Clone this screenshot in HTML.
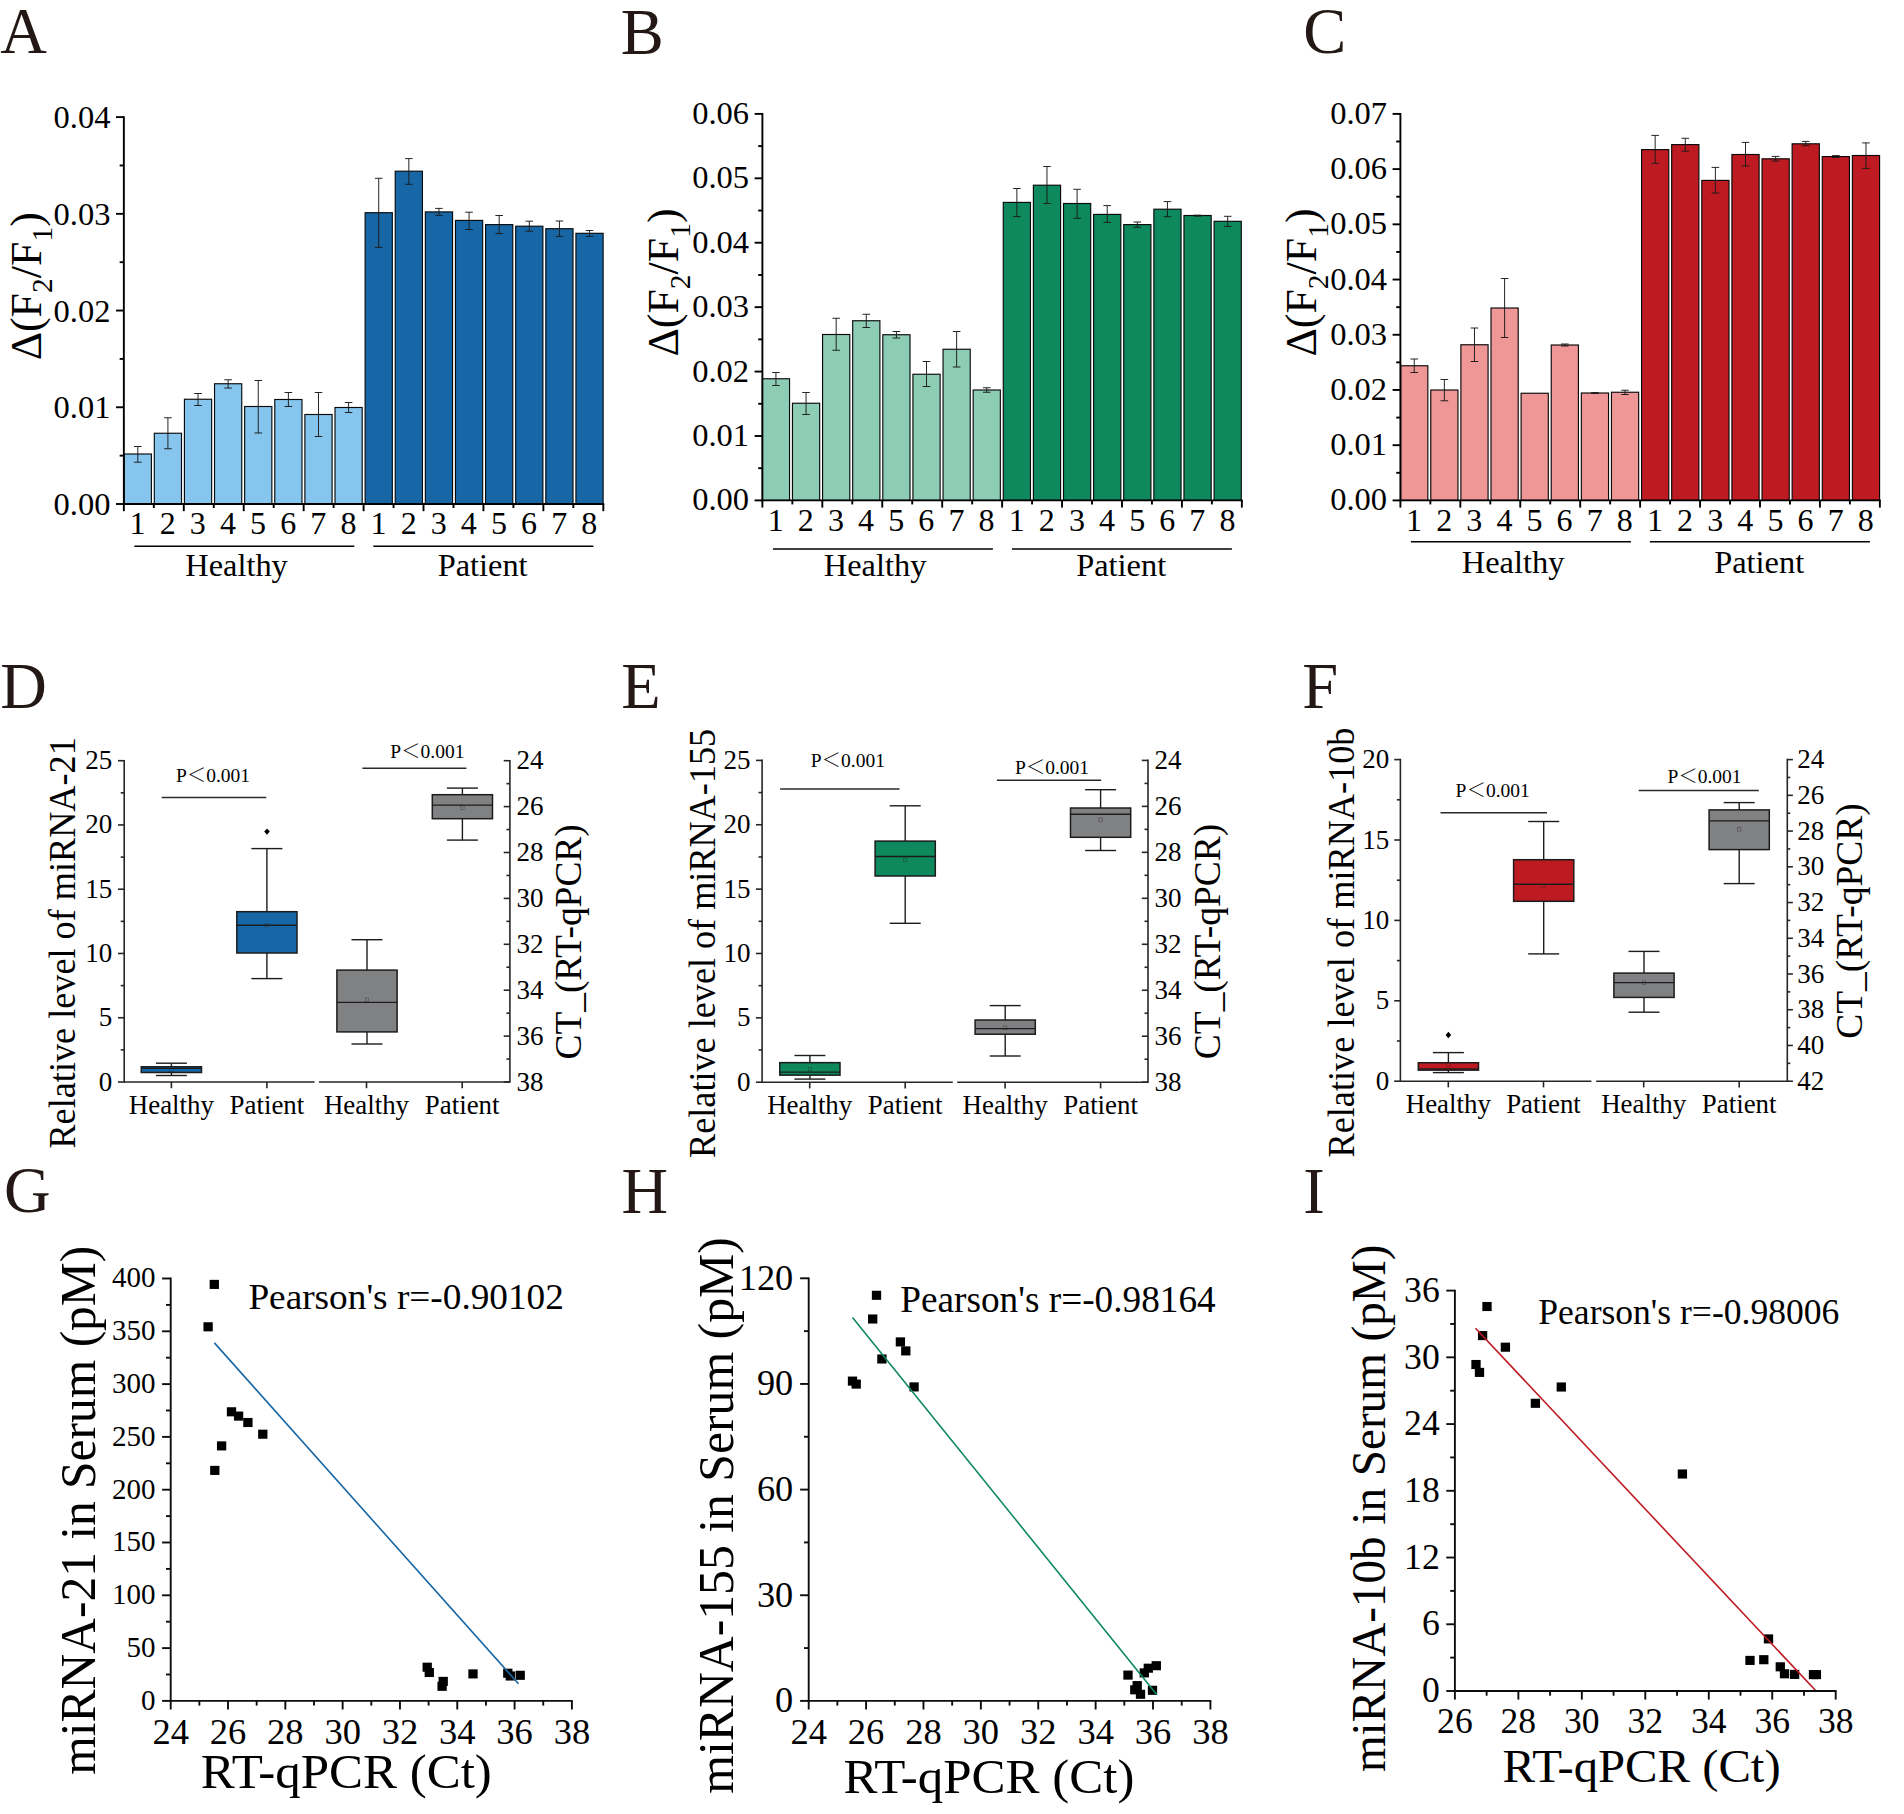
<!DOCTYPE html>
<html lang="en">
<head>
<meta charset="utf-8">
<title>Figure</title>
<style>html,body{margin:0;padding:0;background:#fff}svg{display:block}</style>
</head>
<body>
<svg width="1904" height="1814" viewBox="0 0 1904 1814" font-family='"Liberation Serif", "Noto Serif CJK SC", serif'>
<rect width="1904" height="1814" fill="#fff"/>
<text x="0.3" y="53.4" font-size="64.5" text-anchor="start" fill="#231815" >A</text>
<text x="620.8" y="53.7" font-size="64.5" text-anchor="start" fill="#231815" >B</text>
<text x="1303.2" y="53.2" font-size="64.5" text-anchor="start" fill="#231815" >C</text>
<text x="0.3" y="708.1" font-size="64.5" text-anchor="start" fill="#231815" >D</text>
<text x="621.3" y="708.1" font-size="64.5" text-anchor="start" fill="#231815" >E</text>
<text x="1302.3" y="708.1" font-size="64.5" text-anchor="start" fill="#231815" >F</text>
<text x="3.9" y="1212.3" font-size="64.5" text-anchor="start" fill="#231815" >G</text>
<text x="621.6" y="1213" font-size="64.5" text-anchor="start" fill="#231815" >H</text>
<text x="1303.2" y="1213" font-size="64.5" text-anchor="start" fill="#231815" >I</text>
<rect x="124.2" y="454" width="27.2" height="50" fill="#86C6EE" stroke="#0a0a0a" stroke-width="1.15"/>
<rect x="154.31" y="433.25" width="27.2" height="70.75" fill="#86C6EE" stroke="#0a0a0a" stroke-width="1.15"/>
<rect x="184.43" y="399.25" width="27.2" height="104.75" fill="#86C6EE" stroke="#0a0a0a" stroke-width="1.15"/>
<rect x="214.54" y="383.75" width="27.2" height="120.25" fill="#86C6EE" stroke="#0a0a0a" stroke-width="1.15"/>
<rect x="244.66" y="406.5" width="27.2" height="97.5" fill="#86C6EE" stroke="#0a0a0a" stroke-width="1.15"/>
<rect x="274.77" y="399.5" width="27.2" height="104.5" fill="#86C6EE" stroke="#0a0a0a" stroke-width="1.15"/>
<rect x="304.89" y="414.5" width="27.2" height="89.5" fill="#86C6EE" stroke="#0a0a0a" stroke-width="1.15"/>
<rect x="335" y="407.5" width="27.2" height="96.5" fill="#86C6EE" stroke="#0a0a0a" stroke-width="1.15"/>
<rect x="365.12" y="212.7" width="27.2" height="291.3" fill="#1767A6" stroke="#0a0a0a" stroke-width="1.15"/>
<rect x="395.23" y="171.2" width="27.2" height="332.8" fill="#1767A6" stroke="#0a0a0a" stroke-width="1.15"/>
<rect x="425.35" y="211.9" width="27.2" height="292.1" fill="#1767A6" stroke="#0a0a0a" stroke-width="1.15"/>
<rect x="455.46" y="220.4" width="27.2" height="283.6" fill="#1767A6" stroke="#0a0a0a" stroke-width="1.15"/>
<rect x="485.58" y="224.6" width="27.2" height="279.4" fill="#1767A6" stroke="#0a0a0a" stroke-width="1.15"/>
<rect x="515.69" y="226.2" width="27.2" height="277.8" fill="#1767A6" stroke="#0a0a0a" stroke-width="1.15"/>
<rect x="545.81" y="228.7" width="27.2" height="275.3" fill="#1767A6" stroke="#0a0a0a" stroke-width="1.15"/>
<rect x="575.92" y="233.3" width="27.2" height="270.7" fill="#1767A6" stroke="#0a0a0a" stroke-width="1.15"/>
<line x1="137.8" y1="446.5" x2="137.8" y2="462.2" stroke="#1a1a1a" stroke-width="0.95" />
<line x1="134" y1="446.5" x2="141.6" y2="446.5" stroke="#1a1a1a" stroke-width="0.95" />
<line x1="134" y1="462.2" x2="141.6" y2="462.2" stroke="#1a1a1a" stroke-width="0.95" />
<line x1="167.91" y1="417.75" x2="167.91" y2="448.75" stroke="#1a1a1a" stroke-width="0.95" />
<line x1="164.11" y1="417.75" x2="171.72" y2="417.75" stroke="#1a1a1a" stroke-width="0.95" />
<line x1="164.11" y1="448.75" x2="171.72" y2="448.75" stroke="#1a1a1a" stroke-width="0.95" />
<line x1="198.03" y1="393.5" x2="198.03" y2="405.5" stroke="#1a1a1a" stroke-width="0.95" />
<line x1="194.23" y1="393.5" x2="201.83" y2="393.5" stroke="#1a1a1a" stroke-width="0.95" />
<line x1="194.23" y1="405.5" x2="201.83" y2="405.5" stroke="#1a1a1a" stroke-width="0.95" />
<line x1="228.14" y1="379.75" x2="228.14" y2="388" stroke="#1a1a1a" stroke-width="0.95" />
<line x1="224.34" y1="379.75" x2="231.94" y2="379.75" stroke="#1a1a1a" stroke-width="0.95" />
<line x1="224.34" y1="388" x2="231.94" y2="388" stroke="#1a1a1a" stroke-width="0.95" />
<line x1="258.26" y1="380.5" x2="258.26" y2="433" stroke="#1a1a1a" stroke-width="0.95" />
<line x1="254.46" y1="380.5" x2="262.06" y2="380.5" stroke="#1a1a1a" stroke-width="0.95" />
<line x1="254.46" y1="433" x2="262.06" y2="433" stroke="#1a1a1a" stroke-width="0.95" />
<line x1="288.38" y1="392.5" x2="288.38" y2="406.5" stroke="#1a1a1a" stroke-width="0.95" />
<line x1="284.57" y1="392.5" x2="292.18" y2="392.5" stroke="#1a1a1a" stroke-width="0.95" />
<line x1="284.57" y1="406.5" x2="292.18" y2="406.5" stroke="#1a1a1a" stroke-width="0.95" />
<line x1="318.49" y1="392.5" x2="318.49" y2="436.5" stroke="#1a1a1a" stroke-width="0.95" />
<line x1="314.69" y1="392.5" x2="322.29" y2="392.5" stroke="#1a1a1a" stroke-width="0.95" />
<line x1="314.69" y1="436.5" x2="322.29" y2="436.5" stroke="#1a1a1a" stroke-width="0.95" />
<line x1="348.6" y1="402.5" x2="348.6" y2="412.5" stroke="#1a1a1a" stroke-width="0.95" />
<line x1="344.8" y1="402.5" x2="352.4" y2="402.5" stroke="#1a1a1a" stroke-width="0.95" />
<line x1="344.8" y1="412.5" x2="352.4" y2="412.5" stroke="#1a1a1a" stroke-width="0.95" />
<line x1="378.72" y1="178.3" x2="378.72" y2="247.3" stroke="#1a1a1a" stroke-width="0.95" />
<line x1="374.92" y1="178.3" x2="382.52" y2="178.3" stroke="#1a1a1a" stroke-width="0.95" />
<line x1="374.92" y1="247.3" x2="382.52" y2="247.3" stroke="#1a1a1a" stroke-width="0.95" />
<line x1="408.83" y1="158.6" x2="408.83" y2="184.3" stroke="#1a1a1a" stroke-width="0.95" />
<line x1="405.03" y1="158.6" x2="412.63" y2="158.6" stroke="#1a1a1a" stroke-width="0.95" />
<line x1="405.03" y1="184.3" x2="412.63" y2="184.3" stroke="#1a1a1a" stroke-width="0.95" />
<line x1="438.95" y1="208.4" x2="438.95" y2="215.3" stroke="#1a1a1a" stroke-width="0.95" />
<line x1="435.15" y1="208.4" x2="442.75" y2="208.4" stroke="#1a1a1a" stroke-width="0.95" />
<line x1="435.15" y1="215.3" x2="442.75" y2="215.3" stroke="#1a1a1a" stroke-width="0.95" />
<line x1="469.06" y1="212.2" x2="469.06" y2="229.5" stroke="#1a1a1a" stroke-width="0.95" />
<line x1="465.26" y1="212.2" x2="472.86" y2="212.2" stroke="#1a1a1a" stroke-width="0.95" />
<line x1="465.26" y1="229.5" x2="472.86" y2="229.5" stroke="#1a1a1a" stroke-width="0.95" />
<line x1="499.18" y1="215.5" x2="499.18" y2="233.6" stroke="#1a1a1a" stroke-width="0.95" />
<line x1="495.38" y1="215.5" x2="502.98" y2="215.5" stroke="#1a1a1a" stroke-width="0.95" />
<line x1="495.38" y1="233.6" x2="502.98" y2="233.6" stroke="#1a1a1a" stroke-width="0.95" />
<line x1="529.29" y1="221.2" x2="529.29" y2="231.2" stroke="#1a1a1a" stroke-width="0.95" />
<line x1="525.5" y1="221.2" x2="533.09" y2="221.2" stroke="#1a1a1a" stroke-width="0.95" />
<line x1="525.5" y1="231.2" x2="533.09" y2="231.2" stroke="#1a1a1a" stroke-width="0.95" />
<line x1="559.41" y1="221" x2="559.41" y2="236.4" stroke="#1a1a1a" stroke-width="0.95" />
<line x1="555.61" y1="221" x2="563.21" y2="221" stroke="#1a1a1a" stroke-width="0.95" />
<line x1="555.61" y1="236.4" x2="563.21" y2="236.4" stroke="#1a1a1a" stroke-width="0.95" />
<line x1="589.52" y1="230.5" x2="589.52" y2="236.4" stroke="#1a1a1a" stroke-width="0.95" />
<line x1="585.73" y1="230.5" x2="593.32" y2="230.5" stroke="#1a1a1a" stroke-width="0.95" />
<line x1="585.73" y1="236.4" x2="593.32" y2="236.4" stroke="#1a1a1a" stroke-width="0.95" />
<line x1="123.85" y1="116.2" x2="123.85" y2="504.9" stroke="#000" stroke-width="1.9" />
<line x1="122.95" y1="504" x2="604.21" y2="504" stroke="#000" stroke-width="1.9" />
<line x1="116.05" y1="504" x2="123.85" y2="504" stroke="#000" stroke-width="1.9" />
<text x="110.45" y="514.99" font-size="32.5" text-anchor="end" fill="#000" >0.00</text>
<line x1="119.65" y1="455.64" x2="123.85" y2="455.64" stroke="#000" stroke-width="1.9" />
<line x1="116.05" y1="407.27" x2="123.85" y2="407.27" stroke="#000" stroke-width="1.9" />
<text x="110.45" y="418.26" font-size="32.5" text-anchor="end" fill="#000" >0.01</text>
<line x1="119.65" y1="358.91" x2="123.85" y2="358.91" stroke="#000" stroke-width="1.9" />
<line x1="116.05" y1="310.55" x2="123.85" y2="310.55" stroke="#000" stroke-width="1.9" />
<text x="110.45" y="321.54" font-size="32.5" text-anchor="end" fill="#000" >0.02</text>
<line x1="119.65" y1="262.19" x2="123.85" y2="262.19" stroke="#000" stroke-width="1.9" />
<line x1="116.05" y1="213.83" x2="123.85" y2="213.83" stroke="#000" stroke-width="1.9" />
<text x="110.45" y="224.81" font-size="32.5" text-anchor="end" fill="#000" >0.03</text>
<line x1="119.65" y1="165.46" x2="123.85" y2="165.46" stroke="#000" stroke-width="1.9" />
<line x1="116.05" y1="117.1" x2="123.85" y2="117.1" stroke="#000" stroke-width="1.9" />
<text x="110.45" y="128.09" font-size="32.5" text-anchor="end" fill="#000" >0.04</text>
<line x1="123.85" y1="504" x2="123.85" y2="511.2" stroke="#000" stroke-width="1.9" />
<line x1="153.82" y1="504" x2="153.82" y2="508" stroke="#000" stroke-width="1.9" />
<line x1="183.78" y1="504" x2="183.78" y2="511.2" stroke="#000" stroke-width="1.9" />
<line x1="213.75" y1="504" x2="213.75" y2="508" stroke="#000" stroke-width="1.9" />
<line x1="243.71" y1="504" x2="243.71" y2="511.2" stroke="#000" stroke-width="1.9" />
<line x1="273.68" y1="504" x2="273.68" y2="508" stroke="#000" stroke-width="1.9" />
<line x1="303.65" y1="504" x2="303.65" y2="511.2" stroke="#000" stroke-width="1.9" />
<line x1="333.61" y1="504" x2="333.61" y2="508" stroke="#000" stroke-width="1.9" />
<line x1="363.58" y1="504" x2="363.58" y2="511.2" stroke="#000" stroke-width="1.9" />
<line x1="393.54" y1="504" x2="393.54" y2="508" stroke="#000" stroke-width="1.9" />
<line x1="423.51" y1="504" x2="423.51" y2="511.2" stroke="#000" stroke-width="1.9" />
<line x1="453.48" y1="504" x2="453.48" y2="508" stroke="#000" stroke-width="1.9" />
<line x1="483.44" y1="504" x2="483.44" y2="511.2" stroke="#000" stroke-width="1.9" />
<line x1="513.41" y1="504" x2="513.41" y2="508" stroke="#000" stroke-width="1.9" />
<line x1="543.37" y1="504" x2="543.37" y2="511.2" stroke="#000" stroke-width="1.9" />
<line x1="573.34" y1="504" x2="573.34" y2="508" stroke="#000" stroke-width="1.9" />
<line x1="603.31" y1="504" x2="603.31" y2="511.2" stroke="#000" stroke-width="1.9" />
<text x="137.6" y="533.7" font-size="32" text-anchor="middle" fill="#000" >1</text>
<text x="167.72" y="533.7" font-size="32" text-anchor="middle" fill="#000" >2</text>
<text x="197.83" y="533.7" font-size="32" text-anchor="middle" fill="#000" >3</text>
<text x="227.94" y="533.7" font-size="32" text-anchor="middle" fill="#000" >4</text>
<text x="258.06" y="533.7" font-size="32" text-anchor="middle" fill="#000" >5</text>
<text x="288.18" y="533.7" font-size="32" text-anchor="middle" fill="#000" >6</text>
<text x="318.29" y="533.7" font-size="32" text-anchor="middle" fill="#000" >7</text>
<text x="348.4" y="533.7" font-size="32" text-anchor="middle" fill="#000" >8</text>
<text x="378.52" y="533.7" font-size="32" text-anchor="middle" fill="#000" >1</text>
<text x="408.63" y="533.7" font-size="32" text-anchor="middle" fill="#000" >2</text>
<text x="438.75" y="533.7" font-size="32" text-anchor="middle" fill="#000" >3</text>
<text x="468.86" y="533.7" font-size="32" text-anchor="middle" fill="#000" >4</text>
<text x="498.98" y="533.7" font-size="32" text-anchor="middle" fill="#000" >5</text>
<text x="529.09" y="533.7" font-size="32" text-anchor="middle" fill="#000" >6</text>
<text x="559.21" y="533.7" font-size="32" text-anchor="middle" fill="#000" >7</text>
<text x="589.32" y="533.7" font-size="32" text-anchor="middle" fill="#000" >8</text>
<line x1="134.35" y1="546.3" x2="354.35" y2="546.3" stroke="#000" stroke-width="1.5" />
<line x1="373.35" y1="546.3" x2="593.35" y2="546.3" stroke="#000" stroke-width="1.5" />
<text x="236.55" y="575.7" font-size="32.4" text-anchor="middle" fill="#000" >Healthy</text>
<text x="482.65" y="575.7" font-size="32.4" text-anchor="middle" fill="#000" >Patient</text>
<text x="41" y="286.2" font-size="44" text-anchor="middle" fill="#000" transform="rotate(-90 41 286.2)" >Δ(F<tspan font-size="29.5" dy="11.5">2</tspan><tspan dy="-11.5">/F</tspan><tspan font-size="29.5" dy="11.5">1</tspan><tspan dy="-11.5">)</tspan></text>
<rect x="762.35" y="378.75" width="27.2" height="121.65" fill="#8DCDB5" stroke="#0a0a0a" stroke-width="1.15"/>
<rect x="792.46" y="403.25" width="27.2" height="97.15" fill="#8DCDB5" stroke="#0a0a0a" stroke-width="1.15"/>
<rect x="822.58" y="334.5" width="27.2" height="165.9" fill="#8DCDB5" stroke="#0a0a0a" stroke-width="1.15"/>
<rect x="852.69" y="320.75" width="27.2" height="179.65" fill="#8DCDB5" stroke="#0a0a0a" stroke-width="1.15"/>
<rect x="882.81" y="334.75" width="27.2" height="165.65" fill="#8DCDB5" stroke="#0a0a0a" stroke-width="1.15"/>
<rect x="912.92" y="374.25" width="27.2" height="126.15" fill="#8DCDB5" stroke="#0a0a0a" stroke-width="1.15"/>
<rect x="943.04" y="349.25" width="27.2" height="151.15" fill="#8DCDB5" stroke="#0a0a0a" stroke-width="1.15"/>
<rect x="973.15" y="390" width="27.2" height="110.4" fill="#8DCDB5" stroke="#0a0a0a" stroke-width="1.15"/>
<rect x="1003.27" y="202.4" width="27.2" height="298" fill="#0E895D" stroke="#0a0a0a" stroke-width="1.15"/>
<rect x="1033.38" y="185.2" width="27.2" height="315.2" fill="#0E895D" stroke="#0a0a0a" stroke-width="1.15"/>
<rect x="1063.5" y="203.5" width="27.2" height="296.9" fill="#0E895D" stroke="#0a0a0a" stroke-width="1.15"/>
<rect x="1093.62" y="214.4" width="27.2" height="286" fill="#0E895D" stroke="#0a0a0a" stroke-width="1.15"/>
<rect x="1123.73" y="224.6" width="27.2" height="275.8" fill="#0E895D" stroke="#0a0a0a" stroke-width="1.15"/>
<rect x="1153.85" y="209.2" width="27.2" height="291.2" fill="#0E895D" stroke="#0a0a0a" stroke-width="1.15"/>
<rect x="1183.96" y="215.5" width="27.2" height="284.9" fill="#0E895D" stroke="#0a0a0a" stroke-width="1.15"/>
<rect x="1214.08" y="221.3" width="27.2" height="279.1" fill="#0E895D" stroke="#0a0a0a" stroke-width="1.15"/>
<line x1="775.95" y1="372.5" x2="775.95" y2="385.5" stroke="#1a1a1a" stroke-width="0.95" />
<line x1="772.15" y1="372.5" x2="779.75" y2="372.5" stroke="#1a1a1a" stroke-width="0.95" />
<line x1="772.15" y1="385.5" x2="779.75" y2="385.5" stroke="#1a1a1a" stroke-width="0.95" />
<line x1="806.06" y1="392.5" x2="806.06" y2="414.5" stroke="#1a1a1a" stroke-width="0.95" />
<line x1="802.26" y1="392.5" x2="809.86" y2="392.5" stroke="#1a1a1a" stroke-width="0.95" />
<line x1="802.26" y1="414.5" x2="809.86" y2="414.5" stroke="#1a1a1a" stroke-width="0.95" />
<line x1="836.18" y1="318.25" x2="836.18" y2="350.25" stroke="#1a1a1a" stroke-width="0.95" />
<line x1="832.38" y1="318.25" x2="839.98" y2="318.25" stroke="#1a1a1a" stroke-width="0.95" />
<line x1="832.38" y1="350.25" x2="839.98" y2="350.25" stroke="#1a1a1a" stroke-width="0.95" />
<line x1="866.29" y1="314.25" x2="866.29" y2="327.5" stroke="#1a1a1a" stroke-width="0.95" />
<line x1="862.5" y1="314.25" x2="870.09" y2="314.25" stroke="#1a1a1a" stroke-width="0.95" />
<line x1="862.5" y1="327.5" x2="870.09" y2="327.5" stroke="#1a1a1a" stroke-width="0.95" />
<line x1="896.41" y1="331.5" x2="896.41" y2="338" stroke="#1a1a1a" stroke-width="0.95" />
<line x1="892.61" y1="331.5" x2="900.21" y2="331.5" stroke="#1a1a1a" stroke-width="0.95" />
<line x1="892.61" y1="338" x2="900.21" y2="338" stroke="#1a1a1a" stroke-width="0.95" />
<line x1="926.52" y1="361.5" x2="926.52" y2="386.5" stroke="#1a1a1a" stroke-width="0.95" />
<line x1="922.72" y1="361.5" x2="930.32" y2="361.5" stroke="#1a1a1a" stroke-width="0.95" />
<line x1="922.72" y1="386.5" x2="930.32" y2="386.5" stroke="#1a1a1a" stroke-width="0.95" />
<line x1="956.64" y1="331.5" x2="956.64" y2="367" stroke="#1a1a1a" stroke-width="0.95" />
<line x1="952.84" y1="331.5" x2="960.44" y2="331.5" stroke="#1a1a1a" stroke-width="0.95" />
<line x1="952.84" y1="367" x2="960.44" y2="367" stroke="#1a1a1a" stroke-width="0.95" />
<line x1="986.75" y1="387.75" x2="986.75" y2="392.25" stroke="#1a1a1a" stroke-width="0.95" />
<line x1="982.95" y1="387.75" x2="990.55" y2="387.75" stroke="#1a1a1a" stroke-width="0.95" />
<line x1="982.95" y1="392.25" x2="990.55" y2="392.25" stroke="#1a1a1a" stroke-width="0.95" />
<line x1="1016.87" y1="188.5" x2="1016.87" y2="216.6" stroke="#1a1a1a" stroke-width="0.95" />
<line x1="1013.07" y1="188.5" x2="1020.67" y2="188.5" stroke="#1a1a1a" stroke-width="0.95" />
<line x1="1013.07" y1="216.6" x2="1020.67" y2="216.6" stroke="#1a1a1a" stroke-width="0.95" />
<line x1="1046.98" y1="166.5" x2="1046.98" y2="203.5" stroke="#1a1a1a" stroke-width="0.95" />
<line x1="1043.18" y1="166.5" x2="1050.78" y2="166.5" stroke="#1a1a1a" stroke-width="0.95" />
<line x1="1043.18" y1="203.5" x2="1050.78" y2="203.5" stroke="#1a1a1a" stroke-width="0.95" />
<line x1="1077.1" y1="189.3" x2="1077.1" y2="218.3" stroke="#1a1a1a" stroke-width="0.95" />
<line x1="1073.3" y1="189.3" x2="1080.9" y2="189.3" stroke="#1a1a1a" stroke-width="0.95" />
<line x1="1073.3" y1="218.3" x2="1080.9" y2="218.3" stroke="#1a1a1a" stroke-width="0.95" />
<line x1="1107.21" y1="205.6" x2="1107.21" y2="222.4" stroke="#1a1a1a" stroke-width="0.95" />
<line x1="1103.41" y1="205.6" x2="1111.01" y2="205.6" stroke="#1a1a1a" stroke-width="0.95" />
<line x1="1103.41" y1="222.4" x2="1111.01" y2="222.4" stroke="#1a1a1a" stroke-width="0.95" />
<line x1="1137.33" y1="222" x2="1137.33" y2="227.3" stroke="#1a1a1a" stroke-width="0.95" />
<line x1="1133.53" y1="222" x2="1141.13" y2="222" stroke="#1a1a1a" stroke-width="0.95" />
<line x1="1133.53" y1="227.3" x2="1141.13" y2="227.3" stroke="#1a1a1a" stroke-width="0.95" />
<line x1="1167.44" y1="201.6" x2="1167.44" y2="216.7" stroke="#1a1a1a" stroke-width="0.95" />
<line x1="1163.64" y1="201.6" x2="1171.24" y2="201.6" stroke="#1a1a1a" stroke-width="0.95" />
<line x1="1163.64" y1="216.7" x2="1171.24" y2="216.7" stroke="#1a1a1a" stroke-width="0.95" />
<line x1="1197.56" y1="215.2" x2="1197.56" y2="216.1" stroke="#1a1a1a" stroke-width="0.95" />
<line x1="1193.76" y1="215.2" x2="1201.36" y2="215.2" stroke="#1a1a1a" stroke-width="0.95" />
<line x1="1193.76" y1="216.1" x2="1201.36" y2="216.1" stroke="#1a1a1a" stroke-width="0.95" />
<line x1="1227.67" y1="216.3" x2="1227.67" y2="226.4" stroke="#1a1a1a" stroke-width="0.95" />
<line x1="1223.88" y1="216.3" x2="1231.47" y2="216.3" stroke="#1a1a1a" stroke-width="0.95" />
<line x1="1223.88" y1="226.4" x2="1231.47" y2="226.4" stroke="#1a1a1a" stroke-width="0.95" />
<line x1="762.4" y1="113" x2="762.4" y2="501.3" stroke="#000" stroke-width="1.9" />
<line x1="761.5" y1="500.4" x2="1242.76" y2="500.4" stroke="#000" stroke-width="1.9" />
<line x1="754.6" y1="500.4" x2="762.4" y2="500.4" stroke="#000" stroke-width="1.9" />
<text x="749" y="510.38" font-size="32.5" text-anchor="end" fill="#000" >0.00</text>
<line x1="758.2" y1="468.19" x2="762.4" y2="468.19" stroke="#000" stroke-width="1.9" />
<line x1="754.6" y1="435.98" x2="762.4" y2="435.98" stroke="#000" stroke-width="1.9" />
<text x="749" y="445.97" font-size="32.5" text-anchor="end" fill="#000" >0.01</text>
<line x1="758.2" y1="403.77" x2="762.4" y2="403.77" stroke="#000" stroke-width="1.9" />
<line x1="754.6" y1="371.57" x2="762.4" y2="371.57" stroke="#000" stroke-width="1.9" />
<text x="749" y="381.55" font-size="32.5" text-anchor="end" fill="#000" >0.02</text>
<line x1="758.2" y1="339.36" x2="762.4" y2="339.36" stroke="#000" stroke-width="1.9" />
<line x1="754.6" y1="307.15" x2="762.4" y2="307.15" stroke="#000" stroke-width="1.9" />
<text x="749" y="317.13" font-size="32.5" text-anchor="end" fill="#000" >0.03</text>
<line x1="758.2" y1="274.94" x2="762.4" y2="274.94" stroke="#000" stroke-width="1.9" />
<line x1="754.6" y1="242.73" x2="762.4" y2="242.73" stroke="#000" stroke-width="1.9" />
<text x="749" y="252.72" font-size="32.5" text-anchor="end" fill="#000" >0.04</text>
<line x1="758.2" y1="210.52" x2="762.4" y2="210.52" stroke="#000" stroke-width="1.9" />
<line x1="754.6" y1="178.32" x2="762.4" y2="178.32" stroke="#000" stroke-width="1.9" />
<text x="749" y="188.3" font-size="32.5" text-anchor="end" fill="#000" >0.05</text>
<line x1="758.2" y1="146.11" x2="762.4" y2="146.11" stroke="#000" stroke-width="1.9" />
<line x1="754.6" y1="113.9" x2="762.4" y2="113.9" stroke="#000" stroke-width="1.9" />
<text x="749" y="123.88" font-size="32.5" text-anchor="end" fill="#000" >0.06</text>
<line x1="762.4" y1="500.4" x2="762.4" y2="507.6" stroke="#000" stroke-width="1.9" />
<line x1="792.37" y1="500.4" x2="792.37" y2="504.4" stroke="#000" stroke-width="1.9" />
<line x1="822.33" y1="500.4" x2="822.33" y2="507.6" stroke="#000" stroke-width="1.9" />
<line x1="852.3" y1="500.4" x2="852.3" y2="504.4" stroke="#000" stroke-width="1.9" />
<line x1="882.26" y1="500.4" x2="882.26" y2="507.6" stroke="#000" stroke-width="1.9" />
<line x1="912.23" y1="500.4" x2="912.23" y2="504.4" stroke="#000" stroke-width="1.9" />
<line x1="942.2" y1="500.4" x2="942.2" y2="507.6" stroke="#000" stroke-width="1.9" />
<line x1="972.16" y1="500.4" x2="972.16" y2="504.4" stroke="#000" stroke-width="1.9" />
<line x1="1002.13" y1="500.4" x2="1002.13" y2="507.6" stroke="#000" stroke-width="1.9" />
<line x1="1032.09" y1="500.4" x2="1032.09" y2="504.4" stroke="#000" stroke-width="1.9" />
<line x1="1062.06" y1="500.4" x2="1062.06" y2="507.6" stroke="#000" stroke-width="1.9" />
<line x1="1092.03" y1="500.4" x2="1092.03" y2="504.4" stroke="#000" stroke-width="1.9" />
<line x1="1121.99" y1="500.4" x2="1121.99" y2="507.6" stroke="#000" stroke-width="1.9" />
<line x1="1151.96" y1="500.4" x2="1151.96" y2="504.4" stroke="#000" stroke-width="1.9" />
<line x1="1181.92" y1="500.4" x2="1181.92" y2="507.6" stroke="#000" stroke-width="1.9" />
<line x1="1211.89" y1="500.4" x2="1211.89" y2="504.4" stroke="#000" stroke-width="1.9" />
<line x1="1241.86" y1="500.4" x2="1241.86" y2="507.6" stroke="#000" stroke-width="1.9" />
<text x="775.75" y="530.7" font-size="32" text-anchor="middle" fill="#000" >1</text>
<text x="805.86" y="530.7" font-size="32" text-anchor="middle" fill="#000" >2</text>
<text x="835.98" y="530.7" font-size="32" text-anchor="middle" fill="#000" >3</text>
<text x="866.09" y="530.7" font-size="32" text-anchor="middle" fill="#000" >4</text>
<text x="896.21" y="530.7" font-size="32" text-anchor="middle" fill="#000" >5</text>
<text x="926.32" y="530.7" font-size="32" text-anchor="middle" fill="#000" >6</text>
<text x="956.44" y="530.7" font-size="32" text-anchor="middle" fill="#000" >7</text>
<text x="986.55" y="530.7" font-size="32" text-anchor="middle" fill="#000" >8</text>
<text x="1016.67" y="530.7" font-size="32" text-anchor="middle" fill="#000" >1</text>
<text x="1046.78" y="530.7" font-size="32" text-anchor="middle" fill="#000" >2</text>
<text x="1076.9" y="530.7" font-size="32" text-anchor="middle" fill="#000" >3</text>
<text x="1107.01" y="530.7" font-size="32" text-anchor="middle" fill="#000" >4</text>
<text x="1137.13" y="530.7" font-size="32" text-anchor="middle" fill="#000" >5</text>
<text x="1167.24" y="530.7" font-size="32" text-anchor="middle" fill="#000" >6</text>
<text x="1197.36" y="530.7" font-size="32" text-anchor="middle" fill="#000" >7</text>
<text x="1227.47" y="530.7" font-size="32" text-anchor="middle" fill="#000" >8</text>
<line x1="772.9" y1="548.9" x2="992.9" y2="548.9" stroke="#000" stroke-width="1.5" />
<line x1="1011.9" y1="548.9" x2="1231.9" y2="548.9" stroke="#000" stroke-width="1.5" />
<text x="875.1" y="575.8" font-size="32.4" text-anchor="middle" fill="#000" >Healthy</text>
<text x="1121.2" y="575.8" font-size="32.4" text-anchor="middle" fill="#000" >Patient</text>
<text x="678.2" y="282.4" font-size="44" text-anchor="middle" fill="#000" transform="rotate(-90 678.2 282.4)" >Δ(F<tspan font-size="29.5" dy="11.5">2</tspan><tspan dy="-11.5">/F</tspan><tspan font-size="29.5" dy="11.5">1</tspan><tspan dy="-11.5">)</tspan></text>
<rect x="1400.65" y="365.75" width="27.2" height="134.65" fill="#EF9696" stroke="#0a0a0a" stroke-width="1.15"/>
<rect x="1430.77" y="390" width="27.2" height="110.4" fill="#EF9696" stroke="#0a0a0a" stroke-width="1.15"/>
<rect x="1460.88" y="344.75" width="27.2" height="155.65" fill="#EF9696" stroke="#0a0a0a" stroke-width="1.15"/>
<rect x="1491" y="308" width="27.2" height="192.4" fill="#EF9696" stroke="#0a0a0a" stroke-width="1.15"/>
<rect x="1521.11" y="393.25" width="27.2" height="107.15" fill="#EF9696" stroke="#0a0a0a" stroke-width="1.15"/>
<rect x="1551.23" y="345" width="27.2" height="155.4" fill="#EF9696" stroke="#0a0a0a" stroke-width="1.15"/>
<rect x="1581.34" y="393" width="27.2" height="107.4" fill="#EF9696" stroke="#0a0a0a" stroke-width="1.15"/>
<rect x="1611.46" y="392.25" width="27.2" height="108.15" fill="#EF9696" stroke="#0a0a0a" stroke-width="1.15"/>
<rect x="1641.57" y="149.6" width="27.2" height="350.8" fill="#BE1A22" stroke="#0a0a0a" stroke-width="1.15"/>
<rect x="1671.68" y="144.6" width="27.2" height="355.8" fill="#BE1A22" stroke="#0a0a0a" stroke-width="1.15"/>
<rect x="1701.8" y="180.4" width="27.2" height="320" fill="#BE1A22" stroke="#0a0a0a" stroke-width="1.15"/>
<rect x="1731.91" y="154.5" width="27.2" height="345.9" fill="#BE1A22" stroke="#0a0a0a" stroke-width="1.15"/>
<rect x="1762.03" y="158.8" width="27.2" height="341.6" fill="#BE1A22" stroke="#0a0a0a" stroke-width="1.15"/>
<rect x="1792.14" y="143.8" width="27.2" height="356.6" fill="#BE1A22" stroke="#0a0a0a" stroke-width="1.15"/>
<rect x="1822.26" y="156.6" width="27.2" height="343.8" fill="#BE1A22" stroke="#0a0a0a" stroke-width="1.15"/>
<rect x="1852.38" y="155.5" width="27.2" height="344.9" fill="#BE1A22" stroke="#0a0a0a" stroke-width="1.15"/>
<line x1="1414.25" y1="359" x2="1414.25" y2="372.5" stroke="#1a1a1a" stroke-width="0.95" />
<line x1="1410.45" y1="359" x2="1418.05" y2="359" stroke="#1a1a1a" stroke-width="0.95" />
<line x1="1410.45" y1="372.5" x2="1418.05" y2="372.5" stroke="#1a1a1a" stroke-width="0.95" />
<line x1="1444.37" y1="379.5" x2="1444.37" y2="400.75" stroke="#1a1a1a" stroke-width="0.95" />
<line x1="1440.57" y1="379.5" x2="1448.16" y2="379.5" stroke="#1a1a1a" stroke-width="0.95" />
<line x1="1440.57" y1="400.75" x2="1448.16" y2="400.75" stroke="#1a1a1a" stroke-width="0.95" />
<line x1="1474.48" y1="328" x2="1474.48" y2="361.5" stroke="#1a1a1a" stroke-width="0.95" />
<line x1="1470.68" y1="328" x2="1478.28" y2="328" stroke="#1a1a1a" stroke-width="0.95" />
<line x1="1470.68" y1="361.5" x2="1478.28" y2="361.5" stroke="#1a1a1a" stroke-width="0.95" />
<line x1="1504.6" y1="278.5" x2="1504.6" y2="337.5" stroke="#1a1a1a" stroke-width="0.95" />
<line x1="1500.8" y1="278.5" x2="1508.39" y2="278.5" stroke="#1a1a1a" stroke-width="0.95" />
<line x1="1500.8" y1="337.5" x2="1508.39" y2="337.5" stroke="#1a1a1a" stroke-width="0.95" />
<line x1="1564.83" y1="344" x2="1564.83" y2="346" stroke="#1a1a1a" stroke-width="0.95" />
<line x1="1561.03" y1="344" x2="1568.62" y2="344" stroke="#1a1a1a" stroke-width="0.95" />
<line x1="1561.03" y1="346" x2="1568.62" y2="346" stroke="#1a1a1a" stroke-width="0.95" />
<line x1="1594.94" y1="392.6" x2="1594.94" y2="393.4" stroke="#1a1a1a" stroke-width="0.95" />
<line x1="1591.14" y1="392.6" x2="1598.74" y2="392.6" stroke="#1a1a1a" stroke-width="0.95" />
<line x1="1591.14" y1="393.4" x2="1598.74" y2="393.4" stroke="#1a1a1a" stroke-width="0.95" />
<line x1="1625.06" y1="390.25" x2="1625.06" y2="394.5" stroke="#1a1a1a" stroke-width="0.95" />
<line x1="1621.26" y1="390.25" x2="1628.86" y2="390.25" stroke="#1a1a1a" stroke-width="0.95" />
<line x1="1621.26" y1="394.5" x2="1628.86" y2="394.5" stroke="#1a1a1a" stroke-width="0.95" />
<line x1="1655.17" y1="135.4" x2="1655.17" y2="163.3" stroke="#1a1a1a" stroke-width="0.95" />
<line x1="1651.37" y1="135.4" x2="1658.97" y2="135.4" stroke="#1a1a1a" stroke-width="0.95" />
<line x1="1651.37" y1="163.3" x2="1658.97" y2="163.3" stroke="#1a1a1a" stroke-width="0.95" />
<line x1="1685.28" y1="138.3" x2="1685.28" y2="151.2" stroke="#1a1a1a" stroke-width="0.95" />
<line x1="1681.48" y1="138.3" x2="1689.08" y2="138.3" stroke="#1a1a1a" stroke-width="0.95" />
<line x1="1681.48" y1="151.2" x2="1689.08" y2="151.2" stroke="#1a1a1a" stroke-width="0.95" />
<line x1="1715.4" y1="167.4" x2="1715.4" y2="193" stroke="#1a1a1a" stroke-width="0.95" />
<line x1="1711.6" y1="167.4" x2="1719.2" y2="167.4" stroke="#1a1a1a" stroke-width="0.95" />
<line x1="1711.6" y1="193" x2="1719.2" y2="193" stroke="#1a1a1a" stroke-width="0.95" />
<line x1="1745.51" y1="142.4" x2="1745.51" y2="166" stroke="#1a1a1a" stroke-width="0.95" />
<line x1="1741.71" y1="142.4" x2="1749.31" y2="142.4" stroke="#1a1a1a" stroke-width="0.95" />
<line x1="1741.71" y1="166" x2="1749.31" y2="166" stroke="#1a1a1a" stroke-width="0.95" />
<line x1="1775.63" y1="156.4" x2="1775.63" y2="161.1" stroke="#1a1a1a" stroke-width="0.95" />
<line x1="1771.83" y1="156.4" x2="1779.43" y2="156.4" stroke="#1a1a1a" stroke-width="0.95" />
<line x1="1771.83" y1="161.1" x2="1779.43" y2="161.1" stroke="#1a1a1a" stroke-width="0.95" />
<line x1="1805.74" y1="141.4" x2="1805.74" y2="145.7" stroke="#1a1a1a" stroke-width="0.95" />
<line x1="1801.94" y1="141.4" x2="1809.54" y2="141.4" stroke="#1a1a1a" stroke-width="0.95" />
<line x1="1801.94" y1="145.7" x2="1809.54" y2="145.7" stroke="#1a1a1a" stroke-width="0.95" />
<line x1="1835.86" y1="155.6" x2="1835.86" y2="157.5" stroke="#1a1a1a" stroke-width="0.95" />
<line x1="1832.06" y1="155.6" x2="1839.66" y2="155.6" stroke="#1a1a1a" stroke-width="0.95" />
<line x1="1832.06" y1="157.5" x2="1839.66" y2="157.5" stroke="#1a1a1a" stroke-width="0.95" />
<line x1="1865.97" y1="142.9" x2="1865.97" y2="168.4" stroke="#1a1a1a" stroke-width="0.95" />
<line x1="1862.17" y1="142.9" x2="1869.77" y2="142.9" stroke="#1a1a1a" stroke-width="0.95" />
<line x1="1862.17" y1="168.4" x2="1869.77" y2="168.4" stroke="#1a1a1a" stroke-width="0.95" />
<line x1="1400.4" y1="113" x2="1400.4" y2="501.3" stroke="#000" stroke-width="1.9" />
<line x1="1399.5" y1="500.4" x2="1880.76" y2="500.4" stroke="#000" stroke-width="1.9" />
<line x1="1392.6" y1="500.4" x2="1400.4" y2="500.4" stroke="#000" stroke-width="1.9" />
<text x="1387" y="510.38" font-size="32.5" text-anchor="end" fill="#000" >0.00</text>
<line x1="1396.2" y1="472.79" x2="1400.4" y2="472.79" stroke="#000" stroke-width="1.9" />
<line x1="1392.6" y1="445.19" x2="1400.4" y2="445.19" stroke="#000" stroke-width="1.9" />
<text x="1387" y="455.17" font-size="32.5" text-anchor="end" fill="#000" >0.01</text>
<line x1="1396.2" y1="417.58" x2="1400.4" y2="417.58" stroke="#000" stroke-width="1.9" />
<line x1="1392.6" y1="389.97" x2="1400.4" y2="389.97" stroke="#000" stroke-width="1.9" />
<text x="1387" y="399.96" font-size="32.5" text-anchor="end" fill="#000" >0.02</text>
<line x1="1396.2" y1="362.36" x2="1400.4" y2="362.36" stroke="#000" stroke-width="1.9" />
<line x1="1392.6" y1="334.76" x2="1400.4" y2="334.76" stroke="#000" stroke-width="1.9" />
<text x="1387" y="344.74" font-size="32.5" text-anchor="end" fill="#000" >0.03</text>
<line x1="1396.2" y1="307.15" x2="1400.4" y2="307.15" stroke="#000" stroke-width="1.9" />
<line x1="1392.6" y1="279.54" x2="1400.4" y2="279.54" stroke="#000" stroke-width="1.9" />
<text x="1387" y="289.53" font-size="32.5" text-anchor="end" fill="#000" >0.04</text>
<line x1="1396.2" y1="251.94" x2="1400.4" y2="251.94" stroke="#000" stroke-width="1.9" />
<line x1="1392.6" y1="224.33" x2="1400.4" y2="224.33" stroke="#000" stroke-width="1.9" />
<text x="1387" y="234.31" font-size="32.5" text-anchor="end" fill="#000" >0.05</text>
<line x1="1396.2" y1="196.72" x2="1400.4" y2="196.72" stroke="#000" stroke-width="1.9" />
<line x1="1392.6" y1="169.11" x2="1400.4" y2="169.11" stroke="#000" stroke-width="1.9" />
<text x="1387" y="179.1" font-size="32.5" text-anchor="end" fill="#000" >0.06</text>
<line x1="1396.2" y1="141.51" x2="1400.4" y2="141.51" stroke="#000" stroke-width="1.9" />
<line x1="1392.6" y1="113.9" x2="1400.4" y2="113.9" stroke="#000" stroke-width="1.9" />
<text x="1387" y="123.88" font-size="32.5" text-anchor="end" fill="#000" >0.07</text>
<line x1="1400.4" y1="500.4" x2="1400.4" y2="507.6" stroke="#000" stroke-width="1.9" />
<line x1="1430.37" y1="500.4" x2="1430.37" y2="504.4" stroke="#000" stroke-width="1.9" />
<line x1="1460.33" y1="500.4" x2="1460.33" y2="507.6" stroke="#000" stroke-width="1.9" />
<line x1="1490.3" y1="500.4" x2="1490.3" y2="504.4" stroke="#000" stroke-width="1.9" />
<line x1="1520.26" y1="500.4" x2="1520.26" y2="507.6" stroke="#000" stroke-width="1.9" />
<line x1="1550.23" y1="500.4" x2="1550.23" y2="504.4" stroke="#000" stroke-width="1.9" />
<line x1="1580.2" y1="500.4" x2="1580.2" y2="507.6" stroke="#000" stroke-width="1.9" />
<line x1="1610.16" y1="500.4" x2="1610.16" y2="504.4" stroke="#000" stroke-width="1.9" />
<line x1="1640.13" y1="500.4" x2="1640.13" y2="507.6" stroke="#000" stroke-width="1.9" />
<line x1="1670.09" y1="500.4" x2="1670.09" y2="504.4" stroke="#000" stroke-width="1.9" />
<line x1="1700.06" y1="500.4" x2="1700.06" y2="507.6" stroke="#000" stroke-width="1.9" />
<line x1="1730.03" y1="500.4" x2="1730.03" y2="504.4" stroke="#000" stroke-width="1.9" />
<line x1="1759.99" y1="500.4" x2="1759.99" y2="507.6" stroke="#000" stroke-width="1.9" />
<line x1="1789.96" y1="500.4" x2="1789.96" y2="504.4" stroke="#000" stroke-width="1.9" />
<line x1="1819.92" y1="500.4" x2="1819.92" y2="507.6" stroke="#000" stroke-width="1.9" />
<line x1="1849.89" y1="500.4" x2="1849.89" y2="504.4" stroke="#000" stroke-width="1.9" />
<line x1="1879.86" y1="500.4" x2="1879.86" y2="507.6" stroke="#000" stroke-width="1.9" />
<text x="1414.05" y="530.7" font-size="32" text-anchor="middle" fill="#000" >1</text>
<text x="1444.16" y="530.7" font-size="32" text-anchor="middle" fill="#000" >2</text>
<text x="1474.28" y="530.7" font-size="32" text-anchor="middle" fill="#000" >3</text>
<text x="1504.39" y="530.7" font-size="32" text-anchor="middle" fill="#000" >4</text>
<text x="1534.51" y="530.7" font-size="32" text-anchor="middle" fill="#000" >5</text>
<text x="1564.62" y="530.7" font-size="32" text-anchor="middle" fill="#000" >6</text>
<text x="1594.74" y="530.7" font-size="32" text-anchor="middle" fill="#000" >7</text>
<text x="1624.86" y="530.7" font-size="32" text-anchor="middle" fill="#000" >8</text>
<text x="1654.97" y="530.7" font-size="32" text-anchor="middle" fill="#000" >1</text>
<text x="1685.08" y="530.7" font-size="32" text-anchor="middle" fill="#000" >2</text>
<text x="1715.2" y="530.7" font-size="32" text-anchor="middle" fill="#000" >3</text>
<text x="1745.31" y="530.7" font-size="32" text-anchor="middle" fill="#000" >4</text>
<text x="1775.43" y="530.7" font-size="32" text-anchor="middle" fill="#000" >5</text>
<text x="1805.54" y="530.7" font-size="32" text-anchor="middle" fill="#000" >6</text>
<text x="1835.66" y="530.7" font-size="32" text-anchor="middle" fill="#000" >7</text>
<text x="1865.77" y="530.7" font-size="32" text-anchor="middle" fill="#000" >8</text>
<line x1="1410.9" y1="541.7" x2="1630.9" y2="541.7" stroke="#000" stroke-width="1.5" />
<line x1="1649.9" y1="541.7" x2="1869.9" y2="541.7" stroke="#000" stroke-width="1.5" />
<text x="1513.1" y="572.7" font-size="32.4" text-anchor="middle" fill="#000" >Healthy</text>
<text x="1759.2" y="572.7" font-size="32.4" text-anchor="middle" fill="#000" >Patient</text>
<text x="1316.2" y="282.4" font-size="44" text-anchor="middle" fill="#000" transform="rotate(-90 1316.2 282.4)" >Δ(F<tspan font-size="29.5" dy="11.5">2</tspan><tspan dy="-11.5">/F</tspan><tspan font-size="29.5" dy="11.5">1</tspan><tspan dy="-11.5">)</tspan></text>
<line x1="171.4" y1="1063.2" x2="171.4" y2="1066.75" stroke="#1c1c1c" stroke-width="1.4" />
<line x1="171.4" y1="1072.5" x2="171.4" y2="1075.5" stroke="#1c1c1c" stroke-width="1.4" />
<line x1="155.9" y1="1063.2" x2="186.9" y2="1063.2" stroke="#1c1c1c" stroke-width="1.4" />
<line x1="155.9" y1="1075.5" x2="186.9" y2="1075.5" stroke="#1c1c1c" stroke-width="1.4" />
<rect x="141.3" y="1066.75" width="60.2" height="5.75" fill="#1767A6" stroke="#1c1c1c" stroke-width="1.5"/>
<line x1="141.3" y1="1068.4" x2="201.5" y2="1068.4" stroke="#1c1c1c" stroke-width="1.4" />
<rect x="169.7" y="1068.1" width="3.4" height="3.4" fill="none" stroke="#222" stroke-opacity="0.6" stroke-width="0.55"/>
<line x1="266.9" y1="848.6" x2="266.9" y2="911.7" stroke="#1c1c1c" stroke-width="1.4" />
<line x1="266.9" y1="953" x2="266.9" y2="978.6" stroke="#1c1c1c" stroke-width="1.4" />
<line x1="251.4" y1="848.6" x2="282.4" y2="848.6" stroke="#1c1c1c" stroke-width="1.4" />
<line x1="251.4" y1="978.6" x2="282.4" y2="978.6" stroke="#1c1c1c" stroke-width="1.4" />
<rect x="236.8" y="911.7" width="60.2" height="41.3" fill="#1767A6" stroke="#1c1c1c" stroke-width="1.5"/>
<line x1="236.8" y1="925.3" x2="297" y2="925.3" stroke="#1c1c1c" stroke-width="1.4" />
<rect x="265.2" y="923.6" width="3.4" height="3.4" fill="none" stroke="#222" stroke-opacity="0.6" stroke-width="0.55"/>
<line x1="367" y1="939.7" x2="367" y2="970.1" stroke="#1c1c1c" stroke-width="1.4" />
<line x1="367" y1="1031.9" x2="367" y2="1044" stroke="#1c1c1c" stroke-width="1.4" />
<line x1="351.5" y1="939.7" x2="382.5" y2="939.7" stroke="#1c1c1c" stroke-width="1.4" />
<line x1="351.5" y1="1044" x2="382.5" y2="1044" stroke="#1c1c1c" stroke-width="1.4" />
<rect x="336.9" y="970.1" width="60.2" height="61.8" fill="#808183" stroke="#1c1c1c" stroke-width="1.5"/>
<line x1="336.9" y1="1002.4" x2="397.1" y2="1002.4" stroke="#1c1c1c" stroke-width="1.4" />
<rect x="365.3" y="998" width="3.4" height="3.4" fill="none" stroke="#222" stroke-opacity="0.6" stroke-width="0.55"/>
<line x1="462.4" y1="788.1" x2="462.4" y2="794.7" stroke="#1c1c1c" stroke-width="1.4" />
<line x1="462.4" y1="818.7" x2="462.4" y2="840.1" stroke="#1c1c1c" stroke-width="1.4" />
<line x1="446.9" y1="788.1" x2="477.9" y2="788.1" stroke="#1c1c1c" stroke-width="1.4" />
<line x1="446.9" y1="840.1" x2="477.9" y2="840.1" stroke="#1c1c1c" stroke-width="1.4" />
<rect x="432.3" y="794.7" width="60.2" height="24" fill="#808183" stroke="#1c1c1c" stroke-width="1.5"/>
<line x1="432.3" y1="805.1" x2="492.5" y2="805.1" stroke="#1c1c1c" stroke-width="1.4" />
<rect x="460.7" y="806" width="3.4" height="3.4" fill="none" stroke="#222" stroke-opacity="0.6" stroke-width="0.55"/>
<path d="M267 828.4 L269.8 831.6 L267 834.8 L264.2 831.6 Z" fill="#000"/>
<line x1="124.2" y1="759.9" x2="124.2" y2="1082.8" stroke="#262626" stroke-width="1.6" />
<line x1="509.9" y1="759.9" x2="509.9" y2="1082.8" stroke="#262626" stroke-width="1.6" />
<line x1="124.2" y1="1082" x2="314.6" y2="1082" stroke="#262626" stroke-width="1.6" />
<line x1="318.9" y1="1082" x2="509.9" y2="1082" stroke="#262626" stroke-width="1.6" />
<line x1="118" y1="1082" x2="124.2" y2="1082" stroke="#262626" stroke-width="1.6" />
<text x="112.2" y="1090.53" font-size="27" text-anchor="end" fill="#000" >0</text>
<line x1="120.7" y1="1049.87" x2="124.2" y2="1049.87" stroke="#262626" stroke-width="1.6" />
<line x1="118" y1="1017.74" x2="124.2" y2="1017.74" stroke="#262626" stroke-width="1.6" />
<text x="112.2" y="1026.27" font-size="27" text-anchor="end" fill="#000" >5</text>
<line x1="120.7" y1="985.61" x2="124.2" y2="985.61" stroke="#262626" stroke-width="1.6" />
<line x1="118" y1="953.48" x2="124.2" y2="953.48" stroke="#262626" stroke-width="1.6" />
<text x="112.2" y="962.01" font-size="27" text-anchor="end" fill="#000" >10</text>
<line x1="120.7" y1="921.35" x2="124.2" y2="921.35" stroke="#262626" stroke-width="1.6" />
<line x1="118" y1="889.22" x2="124.2" y2="889.22" stroke="#262626" stroke-width="1.6" />
<text x="112.2" y="897.75" font-size="27" text-anchor="end" fill="#000" >15</text>
<line x1="120.7" y1="857.09" x2="124.2" y2="857.09" stroke="#262626" stroke-width="1.6" />
<line x1="118" y1="824.96" x2="124.2" y2="824.96" stroke="#262626" stroke-width="1.6" />
<text x="112.2" y="833.49" font-size="27" text-anchor="end" fill="#000" >20</text>
<line x1="120.7" y1="792.83" x2="124.2" y2="792.83" stroke="#262626" stroke-width="1.6" />
<line x1="118" y1="760.7" x2="124.2" y2="760.7" stroke="#262626" stroke-width="1.6" />
<text x="112.2" y="769.23" font-size="27" text-anchor="end" fill="#000" >25</text>
<line x1="509.9" y1="760.7" x2="503.7" y2="760.7" stroke="#262626" stroke-width="1.6" />
<text x="516.6" y="769.23" font-size="27" text-anchor="start" fill="#000" >24</text>
<line x1="509.9" y1="783.65" x2="506.4" y2="783.65" stroke="#262626" stroke-width="1.6" />
<line x1="509.9" y1="806.6" x2="503.7" y2="806.6" stroke="#262626" stroke-width="1.6" />
<text x="516.6" y="815.13" font-size="27" text-anchor="start" fill="#000" >26</text>
<line x1="509.9" y1="829.55" x2="506.4" y2="829.55" stroke="#262626" stroke-width="1.6" />
<line x1="509.9" y1="852.5" x2="503.7" y2="852.5" stroke="#262626" stroke-width="1.6" />
<text x="516.6" y="861.03" font-size="27" text-anchor="start" fill="#000" >28</text>
<line x1="509.9" y1="875.45" x2="506.4" y2="875.45" stroke="#262626" stroke-width="1.6" />
<line x1="509.9" y1="898.4" x2="503.7" y2="898.4" stroke="#262626" stroke-width="1.6" />
<text x="516.6" y="906.93" font-size="27" text-anchor="start" fill="#000" >30</text>
<line x1="509.9" y1="921.35" x2="506.4" y2="921.35" stroke="#262626" stroke-width="1.6" />
<line x1="509.9" y1="944.3" x2="503.7" y2="944.3" stroke="#262626" stroke-width="1.6" />
<text x="516.6" y="952.83" font-size="27" text-anchor="start" fill="#000" >32</text>
<line x1="509.9" y1="967.25" x2="506.4" y2="967.25" stroke="#262626" stroke-width="1.6" />
<line x1="509.9" y1="990.2" x2="503.7" y2="990.2" stroke="#262626" stroke-width="1.6" />
<text x="516.6" y="998.73" font-size="27" text-anchor="start" fill="#000" >34</text>
<line x1="509.9" y1="1013.15" x2="506.4" y2="1013.15" stroke="#262626" stroke-width="1.6" />
<line x1="509.9" y1="1036.1" x2="503.7" y2="1036.1" stroke="#262626" stroke-width="1.6" />
<text x="516.6" y="1044.63" font-size="27" text-anchor="start" fill="#000" >36</text>
<line x1="509.9" y1="1059.05" x2="506.4" y2="1059.05" stroke="#262626" stroke-width="1.6" />
<line x1="509.9" y1="1082" x2="503.7" y2="1082" stroke="#262626" stroke-width="1.6" />
<text x="516.6" y="1090.53" font-size="27" text-anchor="start" fill="#000" >38</text>
<line x1="171.4" y1="1082" x2="171.4" y2="1088.2" stroke="#262626" stroke-width="1.6" />
<text x="171.4" y="1113.7" font-size="26.9" text-anchor="middle" fill="#000" >Healthy</text>
<line x1="266.9" y1="1082" x2="266.9" y2="1088.2" stroke="#262626" stroke-width="1.6" />
<text x="266.9" y="1113.7" font-size="26.9" text-anchor="middle" fill="#000" >Patient</text>
<line x1="366.5" y1="1082" x2="366.5" y2="1088.2" stroke="#262626" stroke-width="1.6" />
<text x="366.5" y="1113.7" font-size="26.9" text-anchor="middle" fill="#000" >Healthy</text>
<line x1="462.2" y1="1082" x2="462.2" y2="1088.2" stroke="#262626" stroke-width="1.6" />
<text x="462.2" y="1113.7" font-size="26.9" text-anchor="middle" fill="#000" >Patient</text>
<text x="175.9" y="782.1" font-size="19.5" text-anchor="start" fill="#000" >P＜0.001</text>
<text x="390.2" y="757.5" font-size="19.5" text-anchor="start" fill="#000" >P＜0.001</text>
<line x1="161.7" y1="797.6" x2="266.3" y2="797.6" stroke="#2a2a2a" stroke-width="1.5" />
<line x1="362.4" y1="768.3" x2="466.4" y2="768.3" stroke="#2a2a2a" stroke-width="1.5" />
<text x="74.7" y="942.9" font-size="36.9" text-anchor="middle" fill="#000" transform="rotate(-90 74.7 942.9)"  textLength="411.3" lengthAdjust="spacingAndGlyphs">Relative level of miRNA-21</text>
<text x="580.8" y="941.9" font-size="37.2" text-anchor="middle" fill="#000" transform="rotate(-90 580.8 941.9)"  textLength="235.3" lengthAdjust="spacingAndGlyphs">CT_(RT-qPCR)</text>
<line x1="809.9" y1="1055.5" x2="809.9" y2="1062.65" stroke="#1c1c1c" stroke-width="1.4" />
<line x1="809.9" y1="1075.15" x2="809.9" y2="1079.1" stroke="#1c1c1c" stroke-width="1.4" />
<line x1="794.4" y1="1055.5" x2="825.4" y2="1055.5" stroke="#1c1c1c" stroke-width="1.4" />
<line x1="794.4" y1="1079.1" x2="825.4" y2="1079.1" stroke="#1c1c1c" stroke-width="1.4" />
<rect x="779.8" y="1062.65" width="60.2" height="12.5" fill="#0E895D" stroke="#1c1c1c" stroke-width="1.5"/>
<line x1="779.8" y1="1072.1" x2="840" y2="1072.1" stroke="#1c1c1c" stroke-width="1.4" />
<rect x="808.2" y="1067.4" width="3.4" height="3.4" fill="none" stroke="#222" stroke-opacity="0.6" stroke-width="0.55"/>
<line x1="905.2" y1="805.8" x2="905.2" y2="841.1" stroke="#1c1c1c" stroke-width="1.4" />
<line x1="905.2" y1="876" x2="905.2" y2="923.3" stroke="#1c1c1c" stroke-width="1.4" />
<line x1="889.7" y1="805.8" x2="920.7" y2="805.8" stroke="#1c1c1c" stroke-width="1.4" />
<line x1="889.7" y1="923.3" x2="920.7" y2="923.3" stroke="#1c1c1c" stroke-width="1.4" />
<rect x="875.1" y="841.1" width="60.2" height="34.9" fill="#0E895D" stroke="#1c1c1c" stroke-width="1.5"/>
<line x1="875.1" y1="856.5" x2="935.3" y2="856.5" stroke="#1c1c1c" stroke-width="1.4" />
<rect x="903.5" y="858" width="3.4" height="3.4" fill="none" stroke="#222" stroke-opacity="0.6" stroke-width="0.55"/>
<line x1="1005.2" y1="1005.6" x2="1005.2" y2="1020" stroke="#1c1c1c" stroke-width="1.4" />
<line x1="1005.2" y1="1034.2" x2="1005.2" y2="1056" stroke="#1c1c1c" stroke-width="1.4" />
<line x1="989.7" y1="1005.6" x2="1020.7" y2="1005.6" stroke="#1c1c1c" stroke-width="1.4" />
<line x1="989.7" y1="1056" x2="1020.7" y2="1056" stroke="#1c1c1c" stroke-width="1.4" />
<rect x="975.1" y="1020" width="60.2" height="14.2" fill="#808183" stroke="#1c1c1c" stroke-width="1.5"/>
<line x1="975.1" y1="1028.6" x2="1035.3" y2="1028.6" stroke="#1c1c1c" stroke-width="1.4" />
<rect x="1003.5" y="1025.9" width="3.4" height="3.4" fill="none" stroke="#222" stroke-opacity="0.6" stroke-width="0.55"/>
<line x1="1100.6" y1="789.7" x2="1100.6" y2="808" stroke="#1c1c1c" stroke-width="1.4" />
<line x1="1100.6" y1="837.3" x2="1100.6" y2="850.5" stroke="#1c1c1c" stroke-width="1.4" />
<line x1="1085.1" y1="789.7" x2="1116.1" y2="789.7" stroke="#1c1c1c" stroke-width="1.4" />
<line x1="1085.1" y1="850.5" x2="1116.1" y2="850.5" stroke="#1c1c1c" stroke-width="1.4" />
<rect x="1070.5" y="808" width="60.2" height="29.3" fill="#808183" stroke="#1c1c1c" stroke-width="1.5"/>
<line x1="1070.5" y1="814.3" x2="1130.7" y2="814.3" stroke="#1c1c1c" stroke-width="1.4" />
<rect x="1098.9" y="817.9" width="3.4" height="3.4" fill="none" stroke="#222" stroke-opacity="0.6" stroke-width="0.55"/>
<line x1="762.1" y1="759.6" x2="762.1" y2="1083" stroke="#262626" stroke-width="1.6" />
<line x1="1148" y1="759.6" x2="1148" y2="1083" stroke="#262626" stroke-width="1.6" />
<line x1="762.1" y1="1082.2" x2="952.8" y2="1082.2" stroke="#262626" stroke-width="1.6" />
<line x1="957.2" y1="1082.2" x2="1148" y2="1082.2" stroke="#262626" stroke-width="1.6" />
<line x1="755.9" y1="1082.2" x2="762.1" y2="1082.2" stroke="#262626" stroke-width="1.6" />
<text x="750.5" y="1090.73" font-size="27" text-anchor="end" fill="#000" >0</text>
<line x1="758.6" y1="1050.02" x2="762.1" y2="1050.02" stroke="#262626" stroke-width="1.6" />
<line x1="755.9" y1="1017.84" x2="762.1" y2="1017.84" stroke="#262626" stroke-width="1.6" />
<text x="750.5" y="1026.37" font-size="27" text-anchor="end" fill="#000" >5</text>
<line x1="758.6" y1="985.66" x2="762.1" y2="985.66" stroke="#262626" stroke-width="1.6" />
<line x1="755.9" y1="953.48" x2="762.1" y2="953.48" stroke="#262626" stroke-width="1.6" />
<text x="750.5" y="962.01" font-size="27" text-anchor="end" fill="#000" >10</text>
<line x1="758.6" y1="921.3" x2="762.1" y2="921.3" stroke="#262626" stroke-width="1.6" />
<line x1="755.9" y1="889.12" x2="762.1" y2="889.12" stroke="#262626" stroke-width="1.6" />
<text x="750.5" y="897.65" font-size="27" text-anchor="end" fill="#000" >15</text>
<line x1="758.6" y1="856.94" x2="762.1" y2="856.94" stroke="#262626" stroke-width="1.6" />
<line x1="755.9" y1="824.76" x2="762.1" y2="824.76" stroke="#262626" stroke-width="1.6" />
<text x="750.5" y="833.29" font-size="27" text-anchor="end" fill="#000" >20</text>
<line x1="758.6" y1="792.58" x2="762.1" y2="792.58" stroke="#262626" stroke-width="1.6" />
<line x1="755.9" y1="760.4" x2="762.1" y2="760.4" stroke="#262626" stroke-width="1.6" />
<text x="750.5" y="768.93" font-size="27" text-anchor="end" fill="#000" >25</text>
<line x1="1148" y1="760.4" x2="1141.8" y2="760.4" stroke="#262626" stroke-width="1.6" />
<text x="1154.6" y="768.93" font-size="27" text-anchor="start" fill="#000" >24</text>
<line x1="1148" y1="783.39" x2="1144.5" y2="783.39" stroke="#262626" stroke-width="1.6" />
<line x1="1148" y1="806.37" x2="1141.8" y2="806.37" stroke="#262626" stroke-width="1.6" />
<text x="1154.6" y="814.9" font-size="27" text-anchor="start" fill="#000" >26</text>
<line x1="1148" y1="829.36" x2="1144.5" y2="829.36" stroke="#262626" stroke-width="1.6" />
<line x1="1148" y1="852.34" x2="1141.8" y2="852.34" stroke="#262626" stroke-width="1.6" />
<text x="1154.6" y="860.87" font-size="27" text-anchor="start" fill="#000" >28</text>
<line x1="1148" y1="875.33" x2="1144.5" y2="875.33" stroke="#262626" stroke-width="1.6" />
<line x1="1148" y1="898.31" x2="1141.8" y2="898.31" stroke="#262626" stroke-width="1.6" />
<text x="1154.6" y="906.84" font-size="27" text-anchor="start" fill="#000" >30</text>
<line x1="1148" y1="921.3" x2="1144.5" y2="921.3" stroke="#262626" stroke-width="1.6" />
<line x1="1148" y1="944.29" x2="1141.8" y2="944.29" stroke="#262626" stroke-width="1.6" />
<text x="1154.6" y="952.81" font-size="27" text-anchor="start" fill="#000" >32</text>
<line x1="1148" y1="967.27" x2="1144.5" y2="967.27" stroke="#262626" stroke-width="1.6" />
<line x1="1148" y1="990.26" x2="1141.8" y2="990.26" stroke="#262626" stroke-width="1.6" />
<text x="1154.6" y="998.78" font-size="27" text-anchor="start" fill="#000" >34</text>
<line x1="1148" y1="1013.24" x2="1144.5" y2="1013.24" stroke="#262626" stroke-width="1.6" />
<line x1="1148" y1="1036.23" x2="1141.8" y2="1036.23" stroke="#262626" stroke-width="1.6" />
<text x="1154.6" y="1044.75" font-size="27" text-anchor="start" fill="#000" >36</text>
<line x1="1148" y1="1059.21" x2="1144.5" y2="1059.21" stroke="#262626" stroke-width="1.6" />
<line x1="1148" y1="1082.2" x2="1141.8" y2="1082.2" stroke="#262626" stroke-width="1.6" />
<text x="1154.6" y="1090.73" font-size="27" text-anchor="start" fill="#000" >38</text>
<line x1="809.7" y1="1082.2" x2="809.7" y2="1088.4" stroke="#262626" stroke-width="1.6" />
<text x="809.7" y="1113.7" font-size="26.9" text-anchor="middle" fill="#000" >Healthy</text>
<line x1="905.2" y1="1082.2" x2="905.2" y2="1088.4" stroke="#262626" stroke-width="1.6" />
<text x="905.2" y="1113.7" font-size="26.9" text-anchor="middle" fill="#000" >Patient</text>
<line x1="1005.1" y1="1082.2" x2="1005.1" y2="1088.4" stroke="#262626" stroke-width="1.6" />
<text x="1005.1" y="1113.7" font-size="26.9" text-anchor="middle" fill="#000" >Healthy</text>
<line x1="1100.6" y1="1082.2" x2="1100.6" y2="1088.4" stroke="#262626" stroke-width="1.6" />
<text x="1100.6" y="1113.7" font-size="26.9" text-anchor="middle" fill="#000" >Patient</text>
<text x="810.7" y="767" font-size="19.5" text-anchor="start" fill="#000" >P＜0.001</text>
<text x="1014.9" y="773.6" font-size="19.5" text-anchor="start" fill="#000" >P＜0.001</text>
<line x1="780.1" y1="789.1" x2="899.5" y2="789.1" stroke="#2a2a2a" stroke-width="1.5" />
<line x1="996.9" y1="780.2" x2="1101.2" y2="780.2" stroke="#2a2a2a" stroke-width="1.5" />
<text x="714.8" y="943.4" font-size="36.9" text-anchor="middle" fill="#000" transform="rotate(-90 714.8 943.4)"  textLength="429" lengthAdjust="spacingAndGlyphs">Relative level of miRNA-155</text>
<text x="1219.9" y="941.5" font-size="37.2" text-anchor="middle" fill="#000" transform="rotate(-90 1219.9 941.5)"  textLength="235.3" lengthAdjust="spacingAndGlyphs">CT_(RT-qPCR)</text>
<line x1="1448.4" y1="1052.6" x2="1448.4" y2="1062.75" stroke="#1c1c1c" stroke-width="1.4" />
<line x1="1448.4" y1="1070.15" x2="1448.4" y2="1072.6" stroke="#1c1c1c" stroke-width="1.4" />
<line x1="1432.9" y1="1052.6" x2="1463.9" y2="1052.6" stroke="#1c1c1c" stroke-width="1.4" />
<line x1="1432.9" y1="1072.6" x2="1463.9" y2="1072.6" stroke="#1c1c1c" stroke-width="1.4" />
<rect x="1418.3" y="1062.75" width="60.2" height="7.4" fill="#BE1A22" stroke="#1c1c1c" stroke-width="1.5"/>
<line x1="1418.3" y1="1068.9" x2="1478.5" y2="1068.9" stroke="#1c1c1c" stroke-width="1.4" />
<rect x="1446.7" y="1063.5" width="3.4" height="3.4" fill="none" stroke="#222" stroke-opacity="0.6" stroke-width="0.55"/>
<line x1="1543.7" y1="821.5" x2="1543.7" y2="859.7" stroke="#1c1c1c" stroke-width="1.4" />
<line x1="1543.7" y1="901.3" x2="1543.7" y2="953.9" stroke="#1c1c1c" stroke-width="1.4" />
<line x1="1528.2" y1="821.5" x2="1559.2" y2="821.5" stroke="#1c1c1c" stroke-width="1.4" />
<line x1="1528.2" y1="953.9" x2="1559.2" y2="953.9" stroke="#1c1c1c" stroke-width="1.4" />
<rect x="1513.6" y="859.7" width="60.2" height="41.6" fill="#BE1A22" stroke="#1c1c1c" stroke-width="1.5"/>
<line x1="1513.6" y1="884.2" x2="1573.8" y2="884.2" stroke="#1c1c1c" stroke-width="1.4" />
<rect x="1542" y="884.1" width="3.4" height="3.4" fill="none" stroke="#222" stroke-opacity="0.6" stroke-width="0.55"/>
<line x1="1644" y1="951.4" x2="1644" y2="973.1" stroke="#1c1c1c" stroke-width="1.4" />
<line x1="1644" y1="997.4" x2="1644" y2="1012.2" stroke="#1c1c1c" stroke-width="1.4" />
<line x1="1628.5" y1="951.4" x2="1659.5" y2="951.4" stroke="#1c1c1c" stroke-width="1.4" />
<line x1="1628.5" y1="1012.2" x2="1659.5" y2="1012.2" stroke="#1c1c1c" stroke-width="1.4" />
<rect x="1613.9" y="973.1" width="60.2" height="24.3" fill="#808183" stroke="#1c1c1c" stroke-width="1.5"/>
<line x1="1613.9" y1="982.6" x2="1674.1" y2="982.6" stroke="#1c1c1c" stroke-width="1.4" />
<rect x="1642.3" y="980.9" width="3.4" height="3.4" fill="none" stroke="#222" stroke-opacity="0.6" stroke-width="0.55"/>
<line x1="1739.2" y1="802.6" x2="1739.2" y2="809.9" stroke="#1c1c1c" stroke-width="1.4" />
<line x1="1739.2" y1="849.6" x2="1739.2" y2="883.6" stroke="#1c1c1c" stroke-width="1.4" />
<line x1="1723.7" y1="802.6" x2="1754.7" y2="802.6" stroke="#1c1c1c" stroke-width="1.4" />
<line x1="1723.7" y1="883.6" x2="1754.7" y2="883.6" stroke="#1c1c1c" stroke-width="1.4" />
<rect x="1709.1" y="809.9" width="60.2" height="39.7" fill="#808183" stroke="#1c1c1c" stroke-width="1.5"/>
<line x1="1709.1" y1="820.9" x2="1769.3" y2="820.9" stroke="#1c1c1c" stroke-width="1.4" />
<rect x="1737.5" y="827.7" width="3.4" height="3.4" fill="none" stroke="#222" stroke-opacity="0.6" stroke-width="0.55"/>
<path d="M1448.4 1031.8 L1451.2 1035 L1448.4 1038.2 L1445.6 1035 Z" fill="#000"/>
<line x1="1400.4" y1="758.8" x2="1400.4" y2="1082" stroke="#262626" stroke-width="1.6" />
<line x1="1787.3" y1="758.8" x2="1787.3" y2="1082" stroke="#262626" stroke-width="1.6" />
<line x1="1400.4" y1="1081.2" x2="1591.4" y2="1081.2" stroke="#262626" stroke-width="1.6" />
<line x1="1596.2" y1="1081.2" x2="1787.3" y2="1081.2" stroke="#262626" stroke-width="1.6" />
<line x1="1394.2" y1="1081.2" x2="1400.4" y2="1081.2" stroke="#262626" stroke-width="1.6" />
<text x="1389.2" y="1089.73" font-size="27" text-anchor="end" fill="#000" >0</text>
<line x1="1396.9" y1="1041" x2="1400.4" y2="1041" stroke="#262626" stroke-width="1.6" />
<line x1="1394.2" y1="1000.8" x2="1400.4" y2="1000.8" stroke="#262626" stroke-width="1.6" />
<text x="1389.2" y="1009.33" font-size="27" text-anchor="end" fill="#000" >5</text>
<line x1="1396.9" y1="960.6" x2="1400.4" y2="960.6" stroke="#262626" stroke-width="1.6" />
<line x1="1394.2" y1="920.4" x2="1400.4" y2="920.4" stroke="#262626" stroke-width="1.6" />
<text x="1389.2" y="928.93" font-size="27" text-anchor="end" fill="#000" >10</text>
<line x1="1396.9" y1="880.2" x2="1400.4" y2="880.2" stroke="#262626" stroke-width="1.6" />
<line x1="1394.2" y1="840" x2="1400.4" y2="840" stroke="#262626" stroke-width="1.6" />
<text x="1389.2" y="848.53" font-size="27" text-anchor="end" fill="#000" >15</text>
<line x1="1396.9" y1="799.8" x2="1400.4" y2="799.8" stroke="#262626" stroke-width="1.6" />
<line x1="1394.2" y1="759.6" x2="1400.4" y2="759.6" stroke="#262626" stroke-width="1.6" />
<text x="1389.2" y="768.13" font-size="27" text-anchor="end" fill="#000" >20</text>
<line x1="1787.3" y1="759.6" x2="1792.9" y2="759.6" stroke="#262626" stroke-width="1.6" />
<text x="1797.2" y="768.13" font-size="27" text-anchor="start" fill="#000" >24</text>
<line x1="1787.3" y1="777.47" x2="1790.3" y2="777.47" stroke="#262626" stroke-width="1.6" />
<line x1="1787.3" y1="795.33" x2="1792.9" y2="795.33" stroke="#262626" stroke-width="1.6" />
<text x="1797.2" y="803.86" font-size="27" text-anchor="start" fill="#000" >26</text>
<line x1="1787.3" y1="813.2" x2="1790.3" y2="813.2" stroke="#262626" stroke-width="1.6" />
<line x1="1787.3" y1="831.07" x2="1792.9" y2="831.07" stroke="#262626" stroke-width="1.6" />
<text x="1797.2" y="839.59" font-size="27" text-anchor="start" fill="#000" >28</text>
<line x1="1787.3" y1="848.93" x2="1790.3" y2="848.93" stroke="#262626" stroke-width="1.6" />
<line x1="1787.3" y1="866.8" x2="1792.9" y2="866.8" stroke="#262626" stroke-width="1.6" />
<text x="1797.2" y="875.33" font-size="27" text-anchor="start" fill="#000" >30</text>
<line x1="1787.3" y1="884.67" x2="1790.3" y2="884.67" stroke="#262626" stroke-width="1.6" />
<line x1="1787.3" y1="902.53" x2="1792.9" y2="902.53" stroke="#262626" stroke-width="1.6" />
<text x="1797.2" y="911.06" font-size="27" text-anchor="start" fill="#000" >32</text>
<line x1="1787.3" y1="920.4" x2="1790.3" y2="920.4" stroke="#262626" stroke-width="1.6" />
<line x1="1787.3" y1="938.27" x2="1792.9" y2="938.27" stroke="#262626" stroke-width="1.6" />
<text x="1797.2" y="946.79" font-size="27" text-anchor="start" fill="#000" >34</text>
<line x1="1787.3" y1="956.13" x2="1790.3" y2="956.13" stroke="#262626" stroke-width="1.6" />
<line x1="1787.3" y1="974" x2="1792.9" y2="974" stroke="#262626" stroke-width="1.6" />
<text x="1797.2" y="982.53" font-size="27" text-anchor="start" fill="#000" >36</text>
<line x1="1787.3" y1="991.87" x2="1790.3" y2="991.87" stroke="#262626" stroke-width="1.6" />
<line x1="1787.3" y1="1009.73" x2="1792.9" y2="1009.73" stroke="#262626" stroke-width="1.6" />
<text x="1797.2" y="1018.26" font-size="27" text-anchor="start" fill="#000" >38</text>
<line x1="1787.3" y1="1027.6" x2="1790.3" y2="1027.6" stroke="#262626" stroke-width="1.6" />
<line x1="1787.3" y1="1045.47" x2="1792.9" y2="1045.47" stroke="#262626" stroke-width="1.6" />
<text x="1797.2" y="1053.99" font-size="27" text-anchor="start" fill="#000" >40</text>
<line x1="1787.3" y1="1063.33" x2="1790.3" y2="1063.33" stroke="#262626" stroke-width="1.6" />
<line x1="1787.3" y1="1081.2" x2="1792.9" y2="1081.2" stroke="#262626" stroke-width="1.6" />
<text x="1797.2" y="1089.73" font-size="27" text-anchor="start" fill="#000" >42</text>
<line x1="1448.3" y1="1081.2" x2="1448.3" y2="1087.4" stroke="#262626" stroke-width="1.6" />
<text x="1448.3" y="1112.7" font-size="26.9" text-anchor="middle" fill="#000" >Healthy</text>
<line x1="1543.5" y1="1081.2" x2="1543.5" y2="1087.4" stroke="#262626" stroke-width="1.6" />
<text x="1543.5" y="1112.7" font-size="26.9" text-anchor="middle" fill="#000" >Patient</text>
<line x1="1643.7" y1="1081.2" x2="1643.7" y2="1087.4" stroke="#262626" stroke-width="1.6" />
<text x="1643.7" y="1112.7" font-size="26.9" text-anchor="middle" fill="#000" >Healthy</text>
<line x1="1739.2" y1="1081.2" x2="1739.2" y2="1087.4" stroke="#262626" stroke-width="1.6" />
<text x="1739.2" y="1112.7" font-size="26.9" text-anchor="middle" fill="#000" >Patient</text>
<text x="1455.6" y="796.9" font-size="19.5" text-anchor="start" fill="#000" >P＜0.001</text>
<text x="1667.4" y="783.1" font-size="19.5" text-anchor="start" fill="#000" >P＜0.001</text>
<line x1="1440.5" y1="812.7" x2="1547" y2="812.7" stroke="#2a2a2a" stroke-width="1.5" />
<line x1="1638.7" y1="790.6" x2="1758.8" y2="790.6" stroke="#2a2a2a" stroke-width="1.5" />
<text x="1353.9" y="942.5" font-size="36.9" text-anchor="middle" fill="#000" transform="rotate(-90 1353.9 942.5)"  textLength="430" lengthAdjust="spacingAndGlyphs">Relative level of miRNA-10b</text>
<text x="1861.6" y="921" font-size="37.2" text-anchor="middle" fill="#000" transform="rotate(-90 1861.6 921)"  textLength="235.3" lengthAdjust="spacingAndGlyphs">CT_(RT-qPCR)</text>
<rect x="209.65" y="1279.85" width="9.3" height="9.1" fill="#000"/>
<rect x="203.45" y="1322.25" width="9.3" height="9.1" fill="#000"/>
<rect x="226.85" y="1407.25" width="9.3" height="9.1" fill="#000"/>
<rect x="233.95" y="1411.55" width="9.3" height="9.1" fill="#000"/>
<rect x="243.25" y="1417.95" width="9.3" height="9.1" fill="#000"/>
<rect x="258.15" y="1429.65" width="9.3" height="9.1" fill="#000"/>
<rect x="216.95" y="1441.35" width="9.3" height="9.1" fill="#000"/>
<rect x="210.15" y="1465.85" width="9.3" height="9.1" fill="#000"/>
<rect x="422.55" y="1662.65" width="9.3" height="9.1" fill="#000"/>
<rect x="424.65" y="1667.95" width="9.3" height="9.1" fill="#000"/>
<rect x="438.55" y="1676.85" width="9.3" height="9.1" fill="#000"/>
<rect x="437.45" y="1681.75" width="9.3" height="9.1" fill="#000"/>
<rect x="468.35" y="1669.35" width="9.3" height="9.1" fill="#000"/>
<rect x="503.15" y="1668.65" width="9.3" height="9.1" fill="#000"/>
<rect x="505.65" y="1671.45" width="9.3" height="9.1" fill="#000"/>
<rect x="515.55" y="1670.75" width="9.3" height="9.1" fill="#000"/>
<line x1="214.4" y1="1342.9" x2="518.5" y2="1683.8" stroke="#1767A6" stroke-width="1.6" />
<line x1="170.7" y1="1277.6" x2="170.7" y2="1701.8" stroke="#0d0d0d" stroke-width="1.9" />
<line x1="169.8" y1="1700.9" x2="572.8" y2="1700.9" stroke="#0d0d0d" stroke-width="1.9" />
<line x1="162.1" y1="1700.9" x2="170.7" y2="1700.9" stroke="#0d0d0d" stroke-width="1.9" />
<text x="155.4" y="1709.8" font-size="29" text-anchor="end" fill="#000" >0</text>
<line x1="166" y1="1674.5" x2="170.7" y2="1674.5" stroke="#0d0d0d" stroke-width="1.9" />
<line x1="162.1" y1="1648.1" x2="170.7" y2="1648.1" stroke="#0d0d0d" stroke-width="1.9" />
<text x="155.4" y="1657" font-size="29" text-anchor="end" fill="#000" >50</text>
<line x1="166" y1="1621.7" x2="170.7" y2="1621.7" stroke="#0d0d0d" stroke-width="1.9" />
<line x1="162.1" y1="1595.3" x2="170.7" y2="1595.3" stroke="#0d0d0d" stroke-width="1.9" />
<text x="155.4" y="1604.2" font-size="29" text-anchor="end" fill="#000" >100</text>
<line x1="166" y1="1568.9" x2="170.7" y2="1568.9" stroke="#0d0d0d" stroke-width="1.9" />
<line x1="162.1" y1="1542.5" x2="170.7" y2="1542.5" stroke="#0d0d0d" stroke-width="1.9" />
<text x="155.4" y="1551.4" font-size="29" text-anchor="end" fill="#000" >150</text>
<line x1="166" y1="1516.1" x2="170.7" y2="1516.1" stroke="#0d0d0d" stroke-width="1.9" />
<line x1="162.1" y1="1489.7" x2="170.7" y2="1489.7" stroke="#0d0d0d" stroke-width="1.9" />
<text x="155.4" y="1498.6" font-size="29" text-anchor="end" fill="#000" >200</text>
<line x1="166" y1="1463.3" x2="170.7" y2="1463.3" stroke="#0d0d0d" stroke-width="1.9" />
<line x1="162.1" y1="1436.9" x2="170.7" y2="1436.9" stroke="#0d0d0d" stroke-width="1.9" />
<text x="155.4" y="1445.8" font-size="29" text-anchor="end" fill="#000" >250</text>
<line x1="166" y1="1410.5" x2="170.7" y2="1410.5" stroke="#0d0d0d" stroke-width="1.9" />
<line x1="162.1" y1="1384.1" x2="170.7" y2="1384.1" stroke="#0d0d0d" stroke-width="1.9" />
<text x="155.4" y="1393" font-size="29" text-anchor="end" fill="#000" >300</text>
<line x1="166" y1="1357.7" x2="170.7" y2="1357.7" stroke="#0d0d0d" stroke-width="1.9" />
<line x1="162.1" y1="1331.3" x2="170.7" y2="1331.3" stroke="#0d0d0d" stroke-width="1.9" />
<text x="155.4" y="1340.2" font-size="29" text-anchor="end" fill="#000" >350</text>
<line x1="166" y1="1304.9" x2="170.7" y2="1304.9" stroke="#0d0d0d" stroke-width="1.9" />
<line x1="162.1" y1="1278.5" x2="170.7" y2="1278.5" stroke="#0d0d0d" stroke-width="1.9" />
<text x="155.4" y="1287.4" font-size="29" text-anchor="end" fill="#000" >400</text>
<line x1="170.7" y1="1700.9" x2="170.7" y2="1709.5" stroke="#0d0d0d" stroke-width="1.9" />
<text x="170.7" y="1744" font-size="36.5" text-anchor="middle" fill="#000" >24</text>
<line x1="199.36" y1="1700.9" x2="199.36" y2="1705.6" stroke="#0d0d0d" stroke-width="1.9" />
<line x1="228.01" y1="1700.9" x2="228.01" y2="1709.5" stroke="#0d0d0d" stroke-width="1.9" />
<text x="228.01" y="1744" font-size="36.5" text-anchor="middle" fill="#000" >26</text>
<line x1="256.67" y1="1700.9" x2="256.67" y2="1705.6" stroke="#0d0d0d" stroke-width="1.9" />
<line x1="285.33" y1="1700.9" x2="285.33" y2="1709.5" stroke="#0d0d0d" stroke-width="1.9" />
<text x="285.33" y="1744" font-size="36.5" text-anchor="middle" fill="#000" >28</text>
<line x1="313.99" y1="1700.9" x2="313.99" y2="1705.6" stroke="#0d0d0d" stroke-width="1.9" />
<line x1="342.64" y1="1700.9" x2="342.64" y2="1709.5" stroke="#0d0d0d" stroke-width="1.9" />
<text x="342.64" y="1744" font-size="36.5" text-anchor="middle" fill="#000" >30</text>
<line x1="371.3" y1="1700.9" x2="371.3" y2="1705.6" stroke="#0d0d0d" stroke-width="1.9" />
<line x1="399.96" y1="1700.9" x2="399.96" y2="1709.5" stroke="#0d0d0d" stroke-width="1.9" />
<text x="399.96" y="1744" font-size="36.5" text-anchor="middle" fill="#000" >32</text>
<line x1="428.61" y1="1700.9" x2="428.61" y2="1705.6" stroke="#0d0d0d" stroke-width="1.9" />
<line x1="457.27" y1="1700.9" x2="457.27" y2="1709.5" stroke="#0d0d0d" stroke-width="1.9" />
<text x="457.27" y="1744" font-size="36.5" text-anchor="middle" fill="#000" >34</text>
<line x1="485.93" y1="1700.9" x2="485.93" y2="1705.6" stroke="#0d0d0d" stroke-width="1.9" />
<line x1="514.59" y1="1700.9" x2="514.59" y2="1709.5" stroke="#0d0d0d" stroke-width="1.9" />
<text x="514.59" y="1744" font-size="36.5" text-anchor="middle" fill="#000" >36</text>
<line x1="543.24" y1="1700.9" x2="543.24" y2="1705.6" stroke="#0d0d0d" stroke-width="1.9" />
<line x1="571.9" y1="1700.9" x2="571.9" y2="1709.5" stroke="#0d0d0d" stroke-width="1.9" />
<text x="571.9" y="1744" font-size="36.5" text-anchor="middle" fill="#000" >38</text>
<text x="346.3" y="1788.2" font-size="47.5" text-anchor="middle" fill="#000"  textLength="291" lengthAdjust="spacingAndGlyphs">RT-qPCR (Ct)</text>
<text x="95.2" y="1510.2" font-size="51.6" text-anchor="middle" fill="#000" transform="rotate(-90 95.2 1510.2)"  textLength="529" lengthAdjust="spacingAndGlyphs">miRNA-21 in Serum (pM)</text>
<text x="248.4" y="1309.3" font-size="36.5" text-anchor="start" fill="#000"  textLength="315.5" lengthAdjust="spacingAndGlyphs">Pearson's r=-0.90102</text>
<rect x="871.85" y="1290.75" width="9.3" height="9.1" fill="#000"/>
<rect x="868.05" y="1314.45" width="9.3" height="9.1" fill="#000"/>
<rect x="895.75" y="1337.35" width="9.3" height="9.1" fill="#000"/>
<rect x="901.15" y="1346.35" width="9.3" height="9.1" fill="#000"/>
<rect x="877.25" y="1354.45" width="9.3" height="9.1" fill="#000"/>
<rect x="847.85" y="1376.55" width="9.3" height="9.1" fill="#000"/>
<rect x="851.55" y="1379.55" width="9.3" height="9.1" fill="#000"/>
<rect x="909.45" y="1382.35" width="9.3" height="9.1" fill="#000"/>
<rect x="1123.35" y="1670.55" width="9.3" height="9.1" fill="#000"/>
<rect x="1139.65" y="1668.35" width="9.3" height="9.1" fill="#000"/>
<rect x="1143.65" y="1663.65" width="9.3" height="9.1" fill="#000"/>
<rect x="1151.65" y="1661.15" width="9.3" height="9.1" fill="#000"/>
<rect x="1132.55" y="1681.05" width="9.3" height="9.1" fill="#000"/>
<rect x="1130.15" y="1685.25" width="9.3" height="9.1" fill="#000"/>
<rect x="1135.85" y="1689.75" width="9.3" height="9.1" fill="#000"/>
<rect x="1147.85" y="1685.75" width="9.3" height="9.1" fill="#000"/>
<line x1="852.5" y1="1317.5" x2="1156.7" y2="1694.4" stroke="#0E895D" stroke-width="1.6" />
<line x1="808.7" y1="1277.4" x2="808.7" y2="1701.8" stroke="#0d0d0d" stroke-width="1.9" />
<line x1="807.8" y1="1700.9" x2="1211.3" y2="1700.9" stroke="#0d0d0d" stroke-width="1.9" />
<line x1="800.1" y1="1700.9" x2="808.7" y2="1700.9" stroke="#0d0d0d" stroke-width="1.9" />
<text x="793.2" y="1712.27" font-size="36.3" text-anchor="end" fill="#000" >0</text>
<line x1="804" y1="1648.08" x2="808.7" y2="1648.08" stroke="#0d0d0d" stroke-width="1.9" />
<line x1="800.1" y1="1595.25" x2="808.7" y2="1595.25" stroke="#0d0d0d" stroke-width="1.9" />
<text x="793.2" y="1606.62" font-size="36.3" text-anchor="end" fill="#000" >30</text>
<line x1="804" y1="1542.42" x2="808.7" y2="1542.42" stroke="#0d0d0d" stroke-width="1.9" />
<line x1="800.1" y1="1489.6" x2="808.7" y2="1489.6" stroke="#0d0d0d" stroke-width="1.9" />
<text x="793.2" y="1500.97" font-size="36.3" text-anchor="end" fill="#000" >60</text>
<line x1="804" y1="1436.77" x2="808.7" y2="1436.77" stroke="#0d0d0d" stroke-width="1.9" />
<line x1="800.1" y1="1383.95" x2="808.7" y2="1383.95" stroke="#0d0d0d" stroke-width="1.9" />
<text x="793.2" y="1395.32" font-size="36.3" text-anchor="end" fill="#000" >90</text>
<line x1="804" y1="1331.12" x2="808.7" y2="1331.12" stroke="#0d0d0d" stroke-width="1.9" />
<line x1="800.1" y1="1278.3" x2="808.7" y2="1278.3" stroke="#0d0d0d" stroke-width="1.9" />
<text x="793.2" y="1289.67" font-size="36.3" text-anchor="end" fill="#000" >120</text>
<line x1="808.7" y1="1700.9" x2="808.7" y2="1709.5" stroke="#0d0d0d" stroke-width="1.9" />
<text x="808.7" y="1744" font-size="36.5" text-anchor="middle" fill="#000" >24</text>
<line x1="837.39" y1="1700.9" x2="837.39" y2="1705.6" stroke="#0d0d0d" stroke-width="1.9" />
<line x1="866.09" y1="1700.9" x2="866.09" y2="1709.5" stroke="#0d0d0d" stroke-width="1.9" />
<text x="866.09" y="1744" font-size="36.5" text-anchor="middle" fill="#000" >26</text>
<line x1="894.78" y1="1700.9" x2="894.78" y2="1705.6" stroke="#0d0d0d" stroke-width="1.9" />
<line x1="923.47" y1="1700.9" x2="923.47" y2="1709.5" stroke="#0d0d0d" stroke-width="1.9" />
<text x="923.47" y="1744" font-size="36.5" text-anchor="middle" fill="#000" >28</text>
<line x1="952.16" y1="1700.9" x2="952.16" y2="1705.6" stroke="#0d0d0d" stroke-width="1.9" />
<line x1="980.86" y1="1700.9" x2="980.86" y2="1709.5" stroke="#0d0d0d" stroke-width="1.9" />
<text x="980.86" y="1744" font-size="36.5" text-anchor="middle" fill="#000" >30</text>
<line x1="1009.55" y1="1700.9" x2="1009.55" y2="1705.6" stroke="#0d0d0d" stroke-width="1.9" />
<line x1="1038.24" y1="1700.9" x2="1038.24" y2="1709.5" stroke="#0d0d0d" stroke-width="1.9" />
<text x="1038.24" y="1744" font-size="36.5" text-anchor="middle" fill="#000" >32</text>
<line x1="1066.94" y1="1700.9" x2="1066.94" y2="1705.6" stroke="#0d0d0d" stroke-width="1.9" />
<line x1="1095.63" y1="1700.9" x2="1095.63" y2="1709.5" stroke="#0d0d0d" stroke-width="1.9" />
<text x="1095.63" y="1744" font-size="36.5" text-anchor="middle" fill="#000" >34</text>
<line x1="1124.32" y1="1700.9" x2="1124.32" y2="1705.6" stroke="#0d0d0d" stroke-width="1.9" />
<line x1="1153.01" y1="1700.9" x2="1153.01" y2="1709.5" stroke="#0d0d0d" stroke-width="1.9" />
<text x="1153.01" y="1744" font-size="36.5" text-anchor="middle" fill="#000" >36</text>
<line x1="1181.71" y1="1700.9" x2="1181.71" y2="1705.6" stroke="#0d0d0d" stroke-width="1.9" />
<line x1="1210.4" y1="1700.9" x2="1210.4" y2="1709.5" stroke="#0d0d0d" stroke-width="1.9" />
<text x="1210.4" y="1744" font-size="36.5" text-anchor="middle" fill="#000" >38</text>
<text x="988.9" y="1792.9" font-size="47.7" text-anchor="middle" fill="#000"  textLength="291" lengthAdjust="spacingAndGlyphs">RT-qPCR (Ct)</text>
<text x="732.5" y="1515.5" font-size="49.9" text-anchor="middle" fill="#000" transform="rotate(-90 732.5 1515.5)"  textLength="556.5" lengthAdjust="spacingAndGlyphs">miRNA-155 in Serum (pM)</text>
<text x="900.2" y="1312" font-size="37" text-anchor="start" fill="#000"  textLength="315.5" lengthAdjust="spacingAndGlyphs">Pearson's r=-0.98164</text>
<rect x="1482.35" y="1301.95" width="9.3" height="9.1" fill="#000"/>
<rect x="1477.95" y="1331.05" width="9.3" height="9.1" fill="#000"/>
<rect x="1500.75" y="1342.65" width="9.3" height="9.1" fill="#000"/>
<rect x="1471.35" y="1359.95" width="9.3" height="9.1" fill="#000"/>
<rect x="1474.85" y="1367.85" width="9.3" height="9.1" fill="#000"/>
<rect x="1530.75" y="1398.75" width="9.3" height="9.1" fill="#000"/>
<rect x="1556.65" y="1382.45" width="9.3" height="9.1" fill="#000"/>
<rect x="1677.75" y="1469.45" width="9.3" height="9.1" fill="#000"/>
<rect x="1763.85" y="1634.35" width="9.3" height="9.1" fill="#000"/>
<rect x="1745.35" y="1655.85" width="9.3" height="9.1" fill="#000"/>
<rect x="1759.15" y="1655.15" width="9.3" height="9.1" fill="#000"/>
<rect x="1775.65" y="1662.25" width="9.3" height="9.1" fill="#000"/>
<rect x="1779.85" y="1669.25" width="9.3" height="9.1" fill="#000"/>
<rect x="1789.95" y="1669.85" width="9.3" height="9.1" fill="#000"/>
<rect x="1808.85" y="1670.05" width="9.3" height="9.1" fill="#000"/>
<rect x="1811.75" y="1670.05" width="9.3" height="9.1" fill="#000"/>
<line x1="1475.5" y1="1328.2" x2="1816.3" y2="1691.3" stroke="#BE1A22" stroke-width="1.6" />
<line x1="1454.9" y1="1289.7" x2="1454.9" y2="1691.9" stroke="#0d0d0d" stroke-width="1.9" />
<line x1="1454" y1="1691" x2="1836.6" y2="1691" stroke="#0d0d0d" stroke-width="1.9" />
<line x1="1446.3" y1="1691" x2="1454.9" y2="1691" stroke="#0d0d0d" stroke-width="1.9" />
<text x="1439.8" y="1702.17" font-size="35.7" text-anchor="end" fill="#000" >0</text>
<line x1="1450.2" y1="1657.63" x2="1454.9" y2="1657.63" stroke="#0d0d0d" stroke-width="1.9" />
<line x1="1446.3" y1="1624.27" x2="1454.9" y2="1624.27" stroke="#0d0d0d" stroke-width="1.9" />
<text x="1439.8" y="1635.43" font-size="35.7" text-anchor="end" fill="#000" >6</text>
<line x1="1450.2" y1="1590.9" x2="1454.9" y2="1590.9" stroke="#0d0d0d" stroke-width="1.9" />
<line x1="1446.3" y1="1557.53" x2="1454.9" y2="1557.53" stroke="#0d0d0d" stroke-width="1.9" />
<text x="1439.8" y="1568.7" font-size="35.7" text-anchor="end" fill="#000" >12</text>
<line x1="1450.2" y1="1524.17" x2="1454.9" y2="1524.17" stroke="#0d0d0d" stroke-width="1.9" />
<line x1="1446.3" y1="1490.8" x2="1454.9" y2="1490.8" stroke="#0d0d0d" stroke-width="1.9" />
<text x="1439.8" y="1501.97" font-size="35.7" text-anchor="end" fill="#000" >18</text>
<line x1="1450.2" y1="1457.43" x2="1454.9" y2="1457.43" stroke="#0d0d0d" stroke-width="1.9" />
<line x1="1446.3" y1="1424.07" x2="1454.9" y2="1424.07" stroke="#0d0d0d" stroke-width="1.9" />
<text x="1439.8" y="1435.23" font-size="35.7" text-anchor="end" fill="#000" >24</text>
<line x1="1450.2" y1="1390.7" x2="1454.9" y2="1390.7" stroke="#0d0d0d" stroke-width="1.9" />
<line x1="1446.3" y1="1357.33" x2="1454.9" y2="1357.33" stroke="#0d0d0d" stroke-width="1.9" />
<text x="1439.8" y="1368.5" font-size="35.7" text-anchor="end" fill="#000" >30</text>
<line x1="1450.2" y1="1323.97" x2="1454.9" y2="1323.97" stroke="#0d0d0d" stroke-width="1.9" />
<line x1="1446.3" y1="1290.6" x2="1454.9" y2="1290.6" stroke="#0d0d0d" stroke-width="1.9" />
<text x="1439.8" y="1301.77" font-size="35.7" text-anchor="end" fill="#000" >36</text>
<line x1="1454.9" y1="1691" x2="1454.9" y2="1699.6" stroke="#0d0d0d" stroke-width="1.9" />
<text x="1454.9" y="1733.4" font-size="35.6" text-anchor="middle" fill="#000" >26</text>
<line x1="1486.63" y1="1691" x2="1486.63" y2="1695.7" stroke="#0d0d0d" stroke-width="1.9" />
<line x1="1518.37" y1="1691" x2="1518.37" y2="1699.6" stroke="#0d0d0d" stroke-width="1.9" />
<text x="1518.37" y="1733.4" font-size="35.6" text-anchor="middle" fill="#000" >28</text>
<line x1="1550.1" y1="1691" x2="1550.1" y2="1695.7" stroke="#0d0d0d" stroke-width="1.9" />
<line x1="1581.83" y1="1691" x2="1581.83" y2="1699.6" stroke="#0d0d0d" stroke-width="1.9" />
<text x="1581.83" y="1733.4" font-size="35.6" text-anchor="middle" fill="#000" >30</text>
<line x1="1613.57" y1="1691" x2="1613.57" y2="1695.7" stroke="#0d0d0d" stroke-width="1.9" />
<line x1="1645.3" y1="1691" x2="1645.3" y2="1699.6" stroke="#0d0d0d" stroke-width="1.9" />
<text x="1645.3" y="1733.4" font-size="35.6" text-anchor="middle" fill="#000" >32</text>
<line x1="1677.03" y1="1691" x2="1677.03" y2="1695.7" stroke="#0d0d0d" stroke-width="1.9" />
<line x1="1708.77" y1="1691" x2="1708.77" y2="1699.6" stroke="#0d0d0d" stroke-width="1.9" />
<text x="1708.77" y="1733.4" font-size="35.6" text-anchor="middle" fill="#000" >34</text>
<line x1="1740.5" y1="1691" x2="1740.5" y2="1695.7" stroke="#0d0d0d" stroke-width="1.9" />
<line x1="1772.23" y1="1691" x2="1772.23" y2="1699.6" stroke="#0d0d0d" stroke-width="1.9" />
<text x="1772.23" y="1733.4" font-size="35.6" text-anchor="middle" fill="#000" >36</text>
<line x1="1803.97" y1="1691" x2="1803.97" y2="1695.7" stroke="#0d0d0d" stroke-width="1.9" />
<line x1="1835.7" y1="1691" x2="1835.7" y2="1699.6" stroke="#0d0d0d" stroke-width="1.9" />
<text x="1835.7" y="1733.4" font-size="35.6" text-anchor="middle" fill="#000" >38</text>
<text x="1641.6" y="1781.6" font-size="47.2" text-anchor="middle" fill="#000"  textLength="278" lengthAdjust="spacingAndGlyphs">RT-qPCR (Ct)</text>
<text x="1385.2" y="1508.3" font-size="48.4" text-anchor="middle" fill="#000" transform="rotate(-90 1385.2 1508.3)"  textLength="527.5" lengthAdjust="spacingAndGlyphs">miRNA-10b in Serum (pM)</text>
<text x="1538.3" y="1323.75" font-size="35.5" text-anchor="start" fill="#000"  textLength="301" lengthAdjust="spacingAndGlyphs">Pearson's r=-0.98006</text>
</svg>
</body>
</html>
